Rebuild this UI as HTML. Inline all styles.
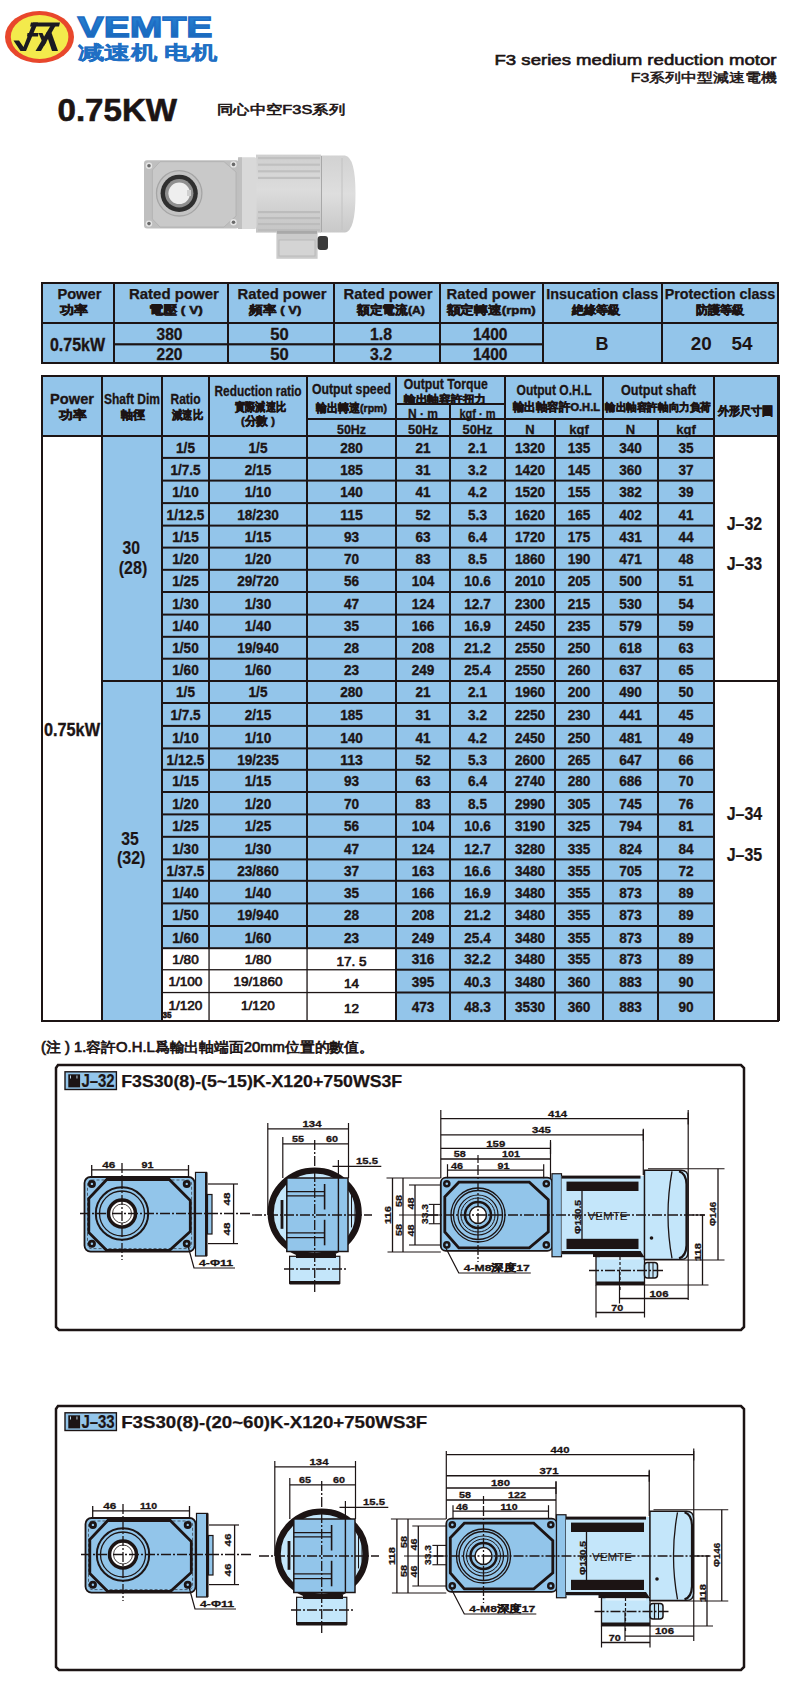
<!DOCTYPE html>
<html><head><meta charset="utf-8"><style>
html,body{margin:0;padding:0;background:#fff;width:800px;height:1700px;overflow:hidden;font-family:"Liberation Sans",sans-serif}
</style></head><body>
<svg width="800" height="1700" viewBox="0 0 800 1700" style="position:absolute;left:0;top:0">
<rect x="0" y="0" width="800" height="1700" fill="#ffffff" />
<g>
<ellipse cx="39.5" cy="37" rx="34.5" ry="26" fill="#e8472c"/>
<ellipse cx="39.6" cy="37" rx="28.8" ry="22" fill="#f3ea4c"/>
<polygon points="13.5,40.5 19,40.5 23.5,47 33,22.5 38,22.5 26,51 20.5,51" fill="#1b1a22"/>
<polygon points="31,22.5 60,22.5 59,26.5 30,26.5" fill="#1b1a22"/>
<polygon points="27.5,33 38.5,33 38,36.5 27,36.5" fill="#1b1a22"/>
<polygon points="51,25 56,25 41,51 35.5,51" fill="#1b1a22"/>
<polygon points="38.5,33 42.5,33 46.5,42 44,46" fill="#1b1a22"/>
<polygon points="46,33 50.5,30 58,51 52,51" fill="#1b1a22"/>
</g>
<defs><linearGradient id="vg" x1="0" y1="0" x2="0" y2="1"><stop offset="0" stop-color="#2a86d8"/><stop offset="1" stop-color="#1562b4"/></linearGradient></defs>
<text x="77.5" y="37" font-size="29" font-weight="bold" text-anchor="start" fill="url(#vg)" font-family="Liberation Sans" textLength="135" lengthAdjust="spacingAndGlyphs" stroke="#1d6cc4" stroke-width="1.3">VEMTE</text>
<text x="78" y="59" font-size="19" font-weight="bold" text-anchor="start" fill="#1f6fc4" font-family="Liberation Sans" textLength="139" lengthAdjust="spacingAndGlyphs" stroke="#1f6fc4" stroke-width="0.35">减速机 电机</text>
<text x="494.5" y="65.2" font-size="15.5" font-weight="normal" text-anchor="start" fill="#1c1414" font-family="Liberation Sans" textLength="282" lengthAdjust="spacingAndGlyphs" stroke="#1c1414" stroke-width="0.6">F3 series medium reduction motor</text>
<text x="776.8" y="82" font-size="13" font-weight="normal" text-anchor="end" fill="#1c1414" font-family="Liberation Sans" textLength="146" lengthAdjust="spacingAndGlyphs" stroke="#1c1414" stroke-width="0.5">F3系列中型減速電機</text>
<text x="57.5" y="121" font-size="32" font-weight="bold" text-anchor="start" fill="#1c1414" font-family="Liberation Sans" textLength="119.5" lengthAdjust="spacingAndGlyphs" stroke="#1c1414" stroke-width="0.6">0.75KW</text>
<text x="217" y="114" font-size="13" font-weight="normal" text-anchor="start" fill="#1c1414" font-family="Liberation Sans" textLength="128" lengthAdjust="spacingAndGlyphs" stroke="#1c1414" stroke-width="0.6">同心中空F3S系列</text>
<defs><linearGradient id="mg" x1="0" y1="0" x2="0" y2="1"><stop offset="0" stop-color="#cfcfcf"/><stop offset="0.45" stop-color="#dcdcdc"/><stop offset="1" stop-color="#c4c4c4"/></linearGradient><linearGradient id="cg" x1="0" y1="0" x2="0" y2="1"><stop offset="0" stop-color="#d2d2d2"/><stop offset="0.5" stop-color="#dedede"/><stop offset="1" stop-color="#c8c8c8"/></linearGradient></defs>
<g>
<path d="M320 155.5 L345 155.5 Q355.5 157 355.5 194 Q355.5 231 345 232.6 L320 232.6 Z" fill="url(#cg)"/>
<line x1="342" y1="158" x2="342" y2="230" stroke="#c2c2c2" stroke-width="1"/>
<line x1="321.5" y1="156" x2="321.5" y2="232" stroke="#a8a8a8" stroke-width="1"/>
<rect x="256" y="154.6" width="65" height="78" fill="url(#mg)"/>
<rect x="258" y="157.0" width="62" height="2.2" fill="#c0c0c0"/>
<rect x="258" y="163.6" width="62" height="2.2" fill="#c0c0c0"/>
<rect x="258" y="170.2" width="62" height="2.2" fill="#c0c0c0"/>
<rect x="258" y="176.8" width="62" height="2.2" fill="#c0c0c0"/>
<rect x="258" y="211.0" width="62" height="2.2" fill="#bcbcbc"/>
<rect x="258" y="217.0" width="62" height="2.2" fill="#bcbcbc"/>
<rect x="258" y="223.0" width="62" height="2.2" fill="#bcbcbc"/>
<rect x="258" y="229.0" width="62" height="2.2" fill="#bcbcbc"/>
<rect x="238" y="157.3" width="18.5" height="71.7" rx="2" fill="#d9d9d9"/>
<rect x="238" y="157.3" width="4" height="71.7" fill="#c0c0c0"/>
<rect x="276.4" y="230.8" width="41.2" height="28" fill="#cbcbcb"/>
<rect x="279" y="240" width="36" height="16" fill="#d4d4d4" stroke="#b4b4b4" stroke-width="0.8"/>
<rect x="277" y="230.8" width="40" height="3" fill="#a9a9a9"/>
<rect x="317.6" y="236" width="10.4" height="14" rx="3" fill="#3a3a3a"/>
<rect x="144" y="160.3" width="95" height="68.1" rx="3" fill="#bfbfbf"/>
<polygon points="160,161.7 224,161.7 236,172 236,216 224,227 160,227 152.4,219 152.4,170" fill="#c9c9c9" stroke="#b0b0b0" stroke-width="0.8"/>
<circle cx="179.2" cy="193.3" r="22.7" fill="#c3c3c3" stroke="#a5a5a5" stroke-width="1.3"/>
<circle cx="179.2" cy="193.3" r="18.6" fill="#2f2f2f"/>
<circle cx="179.2" cy="193.3" r="14.2" fill="#8f8f8f"/>
<circle cx="179.2" cy="193.3" r="10.8" fill="#eeeeee"/>
<rect x="187" y="190" width="4" height="6" fill="#cfcfcf"/>
<circle cx="149" cy="165.8" r="3.2" fill="#e6e6e6"/>
<circle cx="149" cy="165.8" r="1.8" fill="#6a6a6a"/>
<circle cx="233.5" cy="164.4" r="3.2" fill="#e6e6e6"/>
<circle cx="233.5" cy="164.4" r="1.8" fill="#6a6a6a"/>
<circle cx="149" cy="223.6" r="3.2" fill="#e6e6e6"/>
<circle cx="149" cy="223.6" r="1.8" fill="#6a6a6a"/>
<circle cx="233.5" cy="222.2" r="3.2" fill="#e6e6e6"/>
<circle cx="233.5" cy="222.2" r="1.8" fill="#6a6a6a"/>
</g>
<rect x="41" y="282" width="738" height="82" fill="#93c5ea" />
<rect x="41" y="282" width="738" height="2" fill="#1c1414" />
<rect x="41" y="322" width="738" height="2" fill="#1c1414" />
<rect x="41" y="362" width="738" height="2" fill="#1c1414" />
<rect x="114" y="343.2" width="429" height="2.2" fill="#1c1414" />
<rect x="41" y="282" width="2" height="82" fill="#1c1414" />
<rect x="113" y="282" width="2" height="82" fill="#1c1414" />
<rect x="227" y="282" width="2" height="82" fill="#1c1414" />
<rect x="333" y="282" width="2" height="82" fill="#1c1414" />
<rect x="439" y="282" width="2" height="82" fill="#1c1414" />
<rect x="542" y="282" width="2" height="82" fill="#1c1414" />
<rect x="661" y="282" width="2" height="82" fill="#1c1414" />
<rect x="777" y="282" width="2" height="82" fill="#1c1414" />
<text x="79.4" y="298.6" font-size="14" font-weight="bold" text-anchor="middle" fill="#1c1414" font-family="Liberation Sans" textLength="44" lengthAdjust="spacingAndGlyphs" stroke="#1c1414" stroke-width="0.25">Power</text>
<text x="60" y="314.2" font-size="11.5" font-weight="bold" text-anchor="start" fill="#1c1414" font-family="Liberation Sans" textLength="28" lengthAdjust="spacingAndGlyphs"  stroke="#1c1414" stroke-width="0.55">功率</text>
<text x="173.9" y="298.6" font-size="14" font-weight="bold" text-anchor="middle" fill="#1c1414" font-family="Liberation Sans" textLength="90" lengthAdjust="spacingAndGlyphs" stroke="#1c1414" stroke-width="0.25">Rated power</text>
<text x="148.75" y="314.2" font-size="11.5" font-weight="bold" text-anchor="start" fill="#1c1414" font-family="Liberation Sans" textLength="54" lengthAdjust="spacingAndGlyphs"  stroke="#1c1414" stroke-width="0.55">電壓 ( V)</text>
<text x="282" y="298.6" font-size="14" font-weight="bold" text-anchor="middle" fill="#1c1414" font-family="Liberation Sans" textLength="89" lengthAdjust="spacingAndGlyphs" stroke="#1c1414" stroke-width="0.25">Rated power</text>
<text x="249.4" y="314.2" font-size="11.5" font-weight="bold" text-anchor="start" fill="#1c1414" font-family="Liberation Sans" textLength="52" lengthAdjust="spacingAndGlyphs"  stroke="#1c1414" stroke-width="0.55">頻率 ( V)</text>
<text x="388" y="298.6" font-size="14" font-weight="bold" text-anchor="middle" fill="#1c1414" font-family="Liberation Sans" textLength="89" lengthAdjust="spacingAndGlyphs" stroke="#1c1414" stroke-width="0.25">Rated power</text>
<text x="356.9" y="314.2" font-size="11.5" font-weight="bold" text-anchor="start" fill="#1c1414" font-family="Liberation Sans" textLength="68" lengthAdjust="spacingAndGlyphs"  stroke="#1c1414" stroke-width="0.55">額定電流(A)</text>
<text x="491" y="298.6" font-size="14" font-weight="bold" text-anchor="middle" fill="#1c1414" font-family="Liberation Sans" textLength="89" lengthAdjust="spacingAndGlyphs" stroke="#1c1414" stroke-width="0.25">Rated power</text>
<text x="446.6" y="314.2" font-size="11.5" font-weight="bold" text-anchor="start" fill="#1c1414" font-family="Liberation Sans" textLength="89" lengthAdjust="spacingAndGlyphs"  stroke="#1c1414" stroke-width="0.55">額定轉速(rpm)</text>
<text x="602.3" y="298.6" font-size="14" font-weight="bold" text-anchor="middle" fill="#1c1414" font-family="Liberation Sans" textLength="112" lengthAdjust="spacingAndGlyphs" stroke="#1c1414" stroke-width="0.25">Insucation class</text>
<text x="571.6" y="314.2" font-size="11.5" font-weight="bold" text-anchor="start" fill="#1c1414" font-family="Liberation Sans" textLength="49" lengthAdjust="spacingAndGlyphs"  stroke="#1c1414" stroke-width="0.55">絶緣等級</text>
<text x="720" y="298.6" font-size="14" font-weight="bold" text-anchor="middle" fill="#1c1414" font-family="Liberation Sans" textLength="110.5" lengthAdjust="spacingAndGlyphs" stroke="#1c1414" stroke-width="0.25">Protection class</text>
<text x="695.7" y="314.2" font-size="11.5" font-weight="bold" text-anchor="start" fill="#1c1414" font-family="Liberation Sans" textLength="49" lengthAdjust="spacingAndGlyphs"  stroke="#1c1414" stroke-width="0.55">防護等級</text>
<text x="77.5" y="350.5" font-size="18" font-weight="bold" text-anchor="middle" fill="#1c1414" font-family="Liberation Sans" textLength="55" lengthAdjust="spacingAndGlyphs" stroke="#1c1414" stroke-width="0.35">0.75kW</text>
<text x="169.5" y="339.6" font-size="17" font-weight="bold" text-anchor="middle" fill="#1c1414" font-family="Liberation Sans" textLength="26" lengthAdjust="spacingAndGlyphs" stroke="#1c1414" stroke-width="0.3">380</text>
<text x="169.5" y="360" font-size="17" font-weight="bold" text-anchor="middle" fill="#1c1414" font-family="Liberation Sans" textLength="26" lengthAdjust="spacingAndGlyphs" stroke="#1c1414" stroke-width="0.3">220</text>
<text x="279.5" y="339.6" font-size="17" font-weight="bold" text-anchor="middle" fill="#1c1414" font-family="Liberation Sans" textLength="18.5" lengthAdjust="spacingAndGlyphs" stroke="#1c1414" stroke-width="0.3">50</text>
<text x="279.5" y="360" font-size="17" font-weight="bold" text-anchor="middle" fill="#1c1414" font-family="Liberation Sans" textLength="18.5" lengthAdjust="spacingAndGlyphs" stroke="#1c1414" stroke-width="0.3">50</text>
<text x="381" y="339.6" font-size="17" font-weight="bold" text-anchor="middle" fill="#1c1414" font-family="Liberation Sans" textLength="22" lengthAdjust="spacingAndGlyphs" stroke="#1c1414" stroke-width="0.3">1.8</text>
<text x="381" y="360" font-size="17" font-weight="bold" text-anchor="middle" fill="#1c1414" font-family="Liberation Sans" textLength="22" lengthAdjust="spacingAndGlyphs" stroke="#1c1414" stroke-width="0.3">3.2</text>
<text x="490.2" y="339.6" font-size="17" font-weight="bold" text-anchor="middle" fill="#1c1414" font-family="Liberation Sans" textLength="34.5" lengthAdjust="spacingAndGlyphs" stroke="#1c1414" stroke-width="0.3">1400</text>
<text x="490.2" y="360" font-size="17" font-weight="bold" text-anchor="middle" fill="#1c1414" font-family="Liberation Sans" textLength="34.5" lengthAdjust="spacingAndGlyphs" stroke="#1c1414" stroke-width="0.3">1400</text>
<text x="602" y="350" font-size="18" font-weight="bold" text-anchor="middle" fill="#1c1414" font-family="Liberation Sans" >B</text>
<text x="701.3" y="350" font-size="18" font-weight="bold" text-anchor="middle" fill="#1c1414" font-family="Liberation Sans" textLength="21" lengthAdjust="spacingAndGlyphs" >20</text>
<text x="741.9" y="350" font-size="18" font-weight="bold" text-anchor="middle" fill="#1c1414" font-family="Liberation Sans" textLength="21" lengthAdjust="spacingAndGlyphs" >54</text>
<rect x="41" y="375" width="738" height="62" fill="#93c5ea" />
<rect x="101" y="437" width="612" height="583" fill="#93c5ea" />
<rect x="163" y="949" width="232" height="71" fill="#ffffff" />
<rect x="41" y="375" width="738" height="2" fill="#1c1414" />
<rect x="41" y="435" width="738" height="2" fill="#1c1414" />
<rect x="306" y="418" width="407" height="2" fill="#1c1414" />
<rect x="395" y="403" width="109" height="2" fill="#1c1414" />
<rect x="777" y="375" width="3" height="646" fill="#1c1414" />
<rect x="41" y="375" width="2" height="646" fill="#1c1414" />
<rect x="101" y="375" width="2" height="646" fill="#1c1414" />
<rect x="161" y="375" width="2" height="646" fill="#1c1414" />
<rect x="208" y="375" width="2" height="574" fill="#1c1414" />
<rect x="208.4" y="949" width="1.3" height="72" fill="#1c1414" />
<rect x="306" y="375" width="2" height="574" fill="#1c1414" />
<rect x="306.4" y="949" width="1.3" height="72" fill="#1c1414" />
<rect x="395" y="375" width="2" height="646" fill="#1c1414" />
<rect x="504" y="375" width="2" height="646" fill="#1c1414" />
<rect x="602" y="375" width="2" height="646" fill="#1c1414" />
<rect x="713" y="375" width="2" height="646" fill="#1c1414" />
<rect x="777" y="375" width="2" height="646" fill="#1c1414" />
<rect x="449" y="403" width="2" height="618" fill="#1c1414" />
<rect x="554" y="418" width="2" height="603" fill="#1c1414" />
<rect x="657" y="418" width="2" height="603" fill="#1c1414" />
<rect x="161" y="456.9" width="554" height="2" fill="#1c1414" />
<rect x="161" y="479.6" width="554" height="2" fill="#1c1414" />
<rect x="161" y="502.1" width="554" height="2" fill="#1c1414" />
<rect x="161" y="524.6" width="554" height="2" fill="#1c1414" />
<rect x="161" y="546.6" width="554" height="2" fill="#1c1414" />
<rect x="161" y="568.8" width="554" height="2" fill="#1c1414" />
<rect x="161" y="591.0" width="554" height="2" fill="#1c1414" />
<rect x="161" y="613.6" width="554" height="2" fill="#1c1414" />
<rect x="161" y="635.8" width="554" height="2" fill="#1c1414" />
<rect x="161" y="657.7" width="554" height="2" fill="#1c1414" />
<rect x="161" y="680.0" width="554" height="2" fill="#1c1414" />
<rect x="161" y="702.0" width="554" height="2" fill="#1c1414" />
<rect x="161" y="724.9" width="554" height="2" fill="#1c1414" />
<rect x="161" y="747.4" width="554" height="2" fill="#1c1414" />
<rect x="161" y="768.8" width="554" height="2" fill="#1c1414" />
<rect x="161" y="791.0" width="554" height="2" fill="#1c1414" />
<rect x="161" y="813.4" width="554" height="2" fill="#1c1414" />
<rect x="161" y="835.8" width="554" height="2" fill="#1c1414" />
<rect x="161" y="858.4" width="554" height="2" fill="#1c1414" />
<rect x="161" y="879.8" width="554" height="2" fill="#1c1414" />
<rect x="161" y="902.4" width="554" height="2" fill="#1c1414" />
<rect x="161" y="925.0" width="554" height="2" fill="#1c1414" />
<rect x="161" y="947.2" width="554" height="2" fill="#1c1414" />
<rect x="161" y="969.1" width="234" height="1.3" fill="#1c1414" />
<rect x="395" y="968.7" width="320" height="2" fill="#1c1414" />
<rect x="161" y="991.9" width="234" height="1.3" fill="#1c1414" />
<rect x="395" y="991.5" width="320" height="2" fill="#1c1414" />
<rect x="41" y="680" width="2" height="2" fill="#1c1414" />
<rect x="101" y="680" width="62" height="2" fill="#1c1414" />
<rect x="713" y="680" width="66" height="2" fill="#1c1414" />
<rect x="41" y="1020" width="738" height="2" fill="#1c1414" />
<text x="72.0" y="403.75" font-size="14" font-weight="bold" text-anchor="middle" fill="#1c1414" font-family="Liberation Sans" textLength="44" lengthAdjust="spacingAndGlyphs" stroke="#1c1414" stroke-width="0.3">Power</text>
<text x="58.75" y="418.5" font-size="11.5" font-weight="bold" text-anchor="start" fill="#1c1414" font-family="Liberation Sans" textLength="27.5" lengthAdjust="spacingAndGlyphs"  stroke="#1c1414" stroke-width="0.55">功率</text>
<text x="132.0" y="403.75" font-size="14" font-weight="bold" text-anchor="middle" fill="#1c1414" font-family="Liberation Sans" textLength="56" lengthAdjust="spacingAndGlyphs" stroke="#1c1414" stroke-width="0.3">Shaft Dim</text>
<text x="121.25" y="418.5" font-size="11.5" font-weight="bold" text-anchor="start" fill="#1c1414" font-family="Liberation Sans" textLength="24" lengthAdjust="spacingAndGlyphs"  stroke="#1c1414" stroke-width="0.55">軸徑</text>
<text x="185.5" y="403.75" font-size="14" font-weight="bold" text-anchor="middle" fill="#1c1414" font-family="Liberation Sans" textLength="30" lengthAdjust="spacingAndGlyphs" stroke="#1c1414" stroke-width="0.3">Ratio</text>
<text x="172" y="418.5" font-size="11.5" font-weight="bold" text-anchor="start" fill="#1c1414" font-family="Liberation Sans" textLength="31" lengthAdjust="spacingAndGlyphs"  stroke="#1c1414" stroke-width="0.55">減速比</text>
<text x="258.0" y="396" font-size="14" font-weight="bold" text-anchor="middle" fill="#1c1414" font-family="Liberation Sans" textLength="87" lengthAdjust="spacingAndGlyphs" stroke="#1c1414" stroke-width="0.3">Reduction ratio</text>
<text x="235" y="411" font-size="11.5" font-weight="bold" text-anchor="start" fill="#1c1414" font-family="Liberation Sans" textLength="51" lengthAdjust="spacingAndGlyphs"  stroke="#1c1414" stroke-width="0.55">實際減速比</text>
<text x="241" y="425" font-size="11.5" font-weight="bold" text-anchor="start" fill="#1c1414" font-family="Liberation Sans" textLength="34" lengthAdjust="spacingAndGlyphs"  stroke="#1c1414" stroke-width="0.55">(分數 )</text>
<text x="351.5" y="393.75" font-size="14" font-weight="bold" text-anchor="middle" fill="#1c1414" font-family="Liberation Sans" textLength="79" lengthAdjust="spacingAndGlyphs" stroke="#1c1414" stroke-width="0.3">Output speed</text>
<text x="316" y="412" font-size="11.5" font-weight="bold" text-anchor="start" fill="#1c1414" font-family="Liberation Sans" textLength="71" lengthAdjust="spacingAndGlyphs"  stroke="#1c1414" stroke-width="0.55">輸出轉速(rpm)</text>
<text x="351.5" y="433.75" font-size="13" font-weight="bold" text-anchor="middle" fill="#1c1414" font-family="Liberation Sans" textLength="29" lengthAdjust="spacingAndGlyphs" stroke="#1c1414" stroke-width="0.3">50Hz</text>
<text x="403.75" y="388.75" font-size="14" font-weight="bold" text-anchor="start" fill="#1c1414" font-family="Liberation Sans" textLength="84" lengthAdjust="spacingAndGlyphs" stroke="#1c1414" stroke-width="0.3">Output  Torque</text>
<text x="403.75" y="402.5" font-size="11" font-weight="bold" text-anchor="start" fill="#1c1414" font-family="Liberation Sans" textLength="82.5" lengthAdjust="spacingAndGlyphs"  stroke="#1c1414" stroke-width="0.55">輸出軸容許扭力</text>
<text x="423.0" y="417.5" font-size="13" font-weight="bold" text-anchor="middle" fill="#1c1414" font-family="Liberation Sans" textLength="30" lengthAdjust="spacingAndGlyphs" stroke="#1c1414" stroke-width="0.3">N · m</text>
<text x="477.5" y="417.5" font-size="13" font-weight="bold" text-anchor="middle" fill="#1c1414" font-family="Liberation Sans" textLength="36" lengthAdjust="spacingAndGlyphs" stroke="#1c1414" stroke-width="0.3">kgf · m</text>
<text x="423.0" y="433.75" font-size="13" font-weight="bold" text-anchor="middle" fill="#1c1414" font-family="Liberation Sans" textLength="30" lengthAdjust="spacingAndGlyphs" stroke="#1c1414" stroke-width="0.3">50Hz</text>
<text x="477.5" y="433.75" font-size="13" font-weight="bold" text-anchor="middle" fill="#1c1414" font-family="Liberation Sans" textLength="30" lengthAdjust="spacingAndGlyphs" stroke="#1c1414" stroke-width="0.3">50Hz</text>
<text x="554.0" y="395" font-size="14" font-weight="bold" text-anchor="middle" fill="#1c1414" font-family="Liberation Sans" textLength="75" lengthAdjust="spacingAndGlyphs" stroke="#1c1414" stroke-width="0.3">Output O.H.L</text>
<text x="512.5" y="411" font-size="11.5" font-weight="bold" text-anchor="start" fill="#1c1414" font-family="Liberation Sans" textLength="87.5" lengthAdjust="spacingAndGlyphs"  stroke="#1c1414" stroke-width="0.55">輸出軸容許O.H.L</text>
<text x="530.0" y="433.75" font-size="13" font-weight="bold" text-anchor="middle" fill="#1c1414" font-family="Liberation Sans" stroke="#1c1414" stroke-width="0.3">N</text>
<text x="579.0" y="433.75" font-size="13" font-weight="bold" text-anchor="middle" fill="#1c1414" font-family="Liberation Sans" stroke="#1c1414" stroke-width="0.3">kgf</text>
<text x="658.5" y="395" font-size="14" font-weight="bold" text-anchor="middle" fill="#1c1414" font-family="Liberation Sans" textLength="75" lengthAdjust="spacingAndGlyphs" stroke="#1c1414" stroke-width="0.3">Output  shaft</text>
<text x="605" y="411" font-size="11" font-weight="bold" text-anchor="start" fill="#1c1414" font-family="Liberation Sans" textLength="106" lengthAdjust="spacingAndGlyphs"  stroke="#1c1414" stroke-width="0.55">輸出軸容許軸向力負荷</text>
<text x="630.5" y="433.75" font-size="13" font-weight="bold" text-anchor="middle" fill="#1c1414" font-family="Liberation Sans" stroke="#1c1414" stroke-width="0.3">N</text>
<text x="686.0" y="433.75" font-size="13" font-weight="bold" text-anchor="middle" fill="#1c1414" font-family="Liberation Sans" stroke="#1c1414" stroke-width="0.3">kgf</text>
<text x="717.5" y="415" font-size="11.5" font-weight="bold" text-anchor="start" fill="#1c1414" font-family="Liberation Sans" textLength="56" lengthAdjust="spacingAndGlyphs"  stroke="#1c1414" stroke-width="0.55">外形尺寸圖</text>
<text x="185.5" y="452.50000000000006" font-size="14.6" font-weight="bold" text-anchor="middle" fill="#1c1414" font-family="Liberation Sans" textLength="18.9" lengthAdjust="spacingAndGlyphs" stroke="#1c1414" stroke-width="0.35">1/5</text>
<text x="258.0" y="452.50000000000006" font-size="14.6" font-weight="bold" text-anchor="middle" fill="#1c1414" font-family="Liberation Sans" textLength="18.9" lengthAdjust="spacingAndGlyphs" stroke="#1c1414" stroke-width="0.35">1/5</text>
<text x="351.5" y="452.50000000000006" font-size="14.6" font-weight="bold" text-anchor="middle" fill="#1c1414" font-family="Liberation Sans" textLength="22.68" lengthAdjust="spacingAndGlyphs" stroke="#1c1414" stroke-width="0.35">280</text>
<text x="423.0" y="452.50000000000006" font-size="14.6" font-weight="bold" text-anchor="middle" fill="#1c1414" font-family="Liberation Sans" textLength="15.12" lengthAdjust="spacingAndGlyphs" stroke="#1c1414" stroke-width="0.35">21</text>
<text x="477.5" y="452.50000000000006" font-size="14.6" font-weight="bold" text-anchor="middle" fill="#1c1414" font-family="Liberation Sans" textLength="18.9" lengthAdjust="spacingAndGlyphs" stroke="#1c1414" stroke-width="0.35">2.1</text>
<text x="530.0" y="452.50000000000006" font-size="14.6" font-weight="bold" text-anchor="middle" fill="#1c1414" font-family="Liberation Sans" textLength="30.25" lengthAdjust="spacingAndGlyphs" stroke="#1c1414" stroke-width="0.35">1320</text>
<text x="579.0" y="452.50000000000006" font-size="14.6" font-weight="bold" text-anchor="middle" fill="#1c1414" font-family="Liberation Sans" textLength="22.68" lengthAdjust="spacingAndGlyphs" stroke="#1c1414" stroke-width="0.35">135</text>
<text x="630.5" y="452.50000000000006" font-size="14.6" font-weight="bold" text-anchor="middle" fill="#1c1414" font-family="Liberation Sans" textLength="22.68" lengthAdjust="spacingAndGlyphs" stroke="#1c1414" stroke-width="0.35">340</text>
<text x="686.0" y="452.50000000000006" font-size="14.6" font-weight="bold" text-anchor="middle" fill="#1c1414" font-family="Liberation Sans" textLength="15.12" lengthAdjust="spacingAndGlyphs" stroke="#1c1414" stroke-width="0.35">35</text>
<text x="185.5" y="474.65000000000003" font-size="14.6" font-weight="bold" text-anchor="middle" fill="#1c1414" font-family="Liberation Sans" textLength="30.25" lengthAdjust="spacingAndGlyphs" stroke="#1c1414" stroke-width="0.35">1/7.5</text>
<text x="258.0" y="474.65000000000003" font-size="14.6" font-weight="bold" text-anchor="middle" fill="#1c1414" font-family="Liberation Sans" textLength="26.47" lengthAdjust="spacingAndGlyphs" stroke="#1c1414" stroke-width="0.35">2/15</text>
<text x="351.5" y="474.65000000000003" font-size="14.6" font-weight="bold" text-anchor="middle" fill="#1c1414" font-family="Liberation Sans" textLength="22.68" lengthAdjust="spacingAndGlyphs" stroke="#1c1414" stroke-width="0.35">185</text>
<text x="423.0" y="474.65000000000003" font-size="14.6" font-weight="bold" text-anchor="middle" fill="#1c1414" font-family="Liberation Sans" textLength="15.12" lengthAdjust="spacingAndGlyphs" stroke="#1c1414" stroke-width="0.35">31</text>
<text x="477.5" y="474.65000000000003" font-size="14.6" font-weight="bold" text-anchor="middle" fill="#1c1414" font-family="Liberation Sans" textLength="18.9" lengthAdjust="spacingAndGlyphs" stroke="#1c1414" stroke-width="0.35">3.2</text>
<text x="530.0" y="474.65000000000003" font-size="14.6" font-weight="bold" text-anchor="middle" fill="#1c1414" font-family="Liberation Sans" textLength="30.25" lengthAdjust="spacingAndGlyphs" stroke="#1c1414" stroke-width="0.35">1420</text>
<text x="579.0" y="474.65000000000003" font-size="14.6" font-weight="bold" text-anchor="middle" fill="#1c1414" font-family="Liberation Sans" textLength="22.68" lengthAdjust="spacingAndGlyphs" stroke="#1c1414" stroke-width="0.35">145</text>
<text x="630.5" y="474.65000000000003" font-size="14.6" font-weight="bold" text-anchor="middle" fill="#1c1414" font-family="Liberation Sans" textLength="22.68" lengthAdjust="spacingAndGlyphs" stroke="#1c1414" stroke-width="0.35">360</text>
<text x="686.0" y="474.65000000000003" font-size="14.6" font-weight="bold" text-anchor="middle" fill="#1c1414" font-family="Liberation Sans" textLength="15.12" lengthAdjust="spacingAndGlyphs" stroke="#1c1414" stroke-width="0.35">37</text>
<text x="185.5" y="497.25000000000006" font-size="14.6" font-weight="bold" text-anchor="middle" fill="#1c1414" font-family="Liberation Sans" textLength="26.47" lengthAdjust="spacingAndGlyphs" stroke="#1c1414" stroke-width="0.35">1/10</text>
<text x="258.0" y="497.25000000000006" font-size="14.6" font-weight="bold" text-anchor="middle" fill="#1c1414" font-family="Liberation Sans" textLength="26.47" lengthAdjust="spacingAndGlyphs" stroke="#1c1414" stroke-width="0.35">1/10</text>
<text x="351.5" y="497.25000000000006" font-size="14.6" font-weight="bold" text-anchor="middle" fill="#1c1414" font-family="Liberation Sans" textLength="22.68" lengthAdjust="spacingAndGlyphs" stroke="#1c1414" stroke-width="0.35">140</text>
<text x="423.0" y="497.25000000000006" font-size="14.6" font-weight="bold" text-anchor="middle" fill="#1c1414" font-family="Liberation Sans" textLength="15.12" lengthAdjust="spacingAndGlyphs" stroke="#1c1414" stroke-width="0.35">41</text>
<text x="477.5" y="497.25000000000006" font-size="14.6" font-weight="bold" text-anchor="middle" fill="#1c1414" font-family="Liberation Sans" textLength="18.9" lengthAdjust="spacingAndGlyphs" stroke="#1c1414" stroke-width="0.35">4.2</text>
<text x="530.0" y="497.25000000000006" font-size="14.6" font-weight="bold" text-anchor="middle" fill="#1c1414" font-family="Liberation Sans" textLength="30.25" lengthAdjust="spacingAndGlyphs" stroke="#1c1414" stroke-width="0.35">1520</text>
<text x="579.0" y="497.25000000000006" font-size="14.6" font-weight="bold" text-anchor="middle" fill="#1c1414" font-family="Liberation Sans" textLength="22.68" lengthAdjust="spacingAndGlyphs" stroke="#1c1414" stroke-width="0.35">155</text>
<text x="630.5" y="497.25000000000006" font-size="14.6" font-weight="bold" text-anchor="middle" fill="#1c1414" font-family="Liberation Sans" textLength="22.68" lengthAdjust="spacingAndGlyphs" stroke="#1c1414" stroke-width="0.35">382</text>
<text x="686.0" y="497.25000000000006" font-size="14.6" font-weight="bold" text-anchor="middle" fill="#1c1414" font-family="Liberation Sans" textLength="15.12" lengthAdjust="spacingAndGlyphs" stroke="#1c1414" stroke-width="0.35">39</text>
<text x="185.5" y="519.75" font-size="14.6" font-weight="bold" text-anchor="middle" fill="#1c1414" font-family="Liberation Sans" textLength="37.81" lengthAdjust="spacingAndGlyphs" stroke="#1c1414" stroke-width="0.35">1/12.5</text>
<text x="258.0" y="519.75" font-size="14.6" font-weight="bold" text-anchor="middle" fill="#1c1414" font-family="Liberation Sans" textLength="41.59" lengthAdjust="spacingAndGlyphs" stroke="#1c1414" stroke-width="0.35">18/230</text>
<text x="351.5" y="519.75" font-size="14.6" font-weight="bold" text-anchor="middle" fill="#1c1414" font-family="Liberation Sans" textLength="22.68" lengthAdjust="spacingAndGlyphs" stroke="#1c1414" stroke-width="0.35">115</text>
<text x="423.0" y="519.75" font-size="14.6" font-weight="bold" text-anchor="middle" fill="#1c1414" font-family="Liberation Sans" textLength="15.12" lengthAdjust="spacingAndGlyphs" stroke="#1c1414" stroke-width="0.35">52</text>
<text x="477.5" y="519.75" font-size="14.6" font-weight="bold" text-anchor="middle" fill="#1c1414" font-family="Liberation Sans" textLength="18.9" lengthAdjust="spacingAndGlyphs" stroke="#1c1414" stroke-width="0.35">5.3</text>
<text x="530.0" y="519.75" font-size="14.6" font-weight="bold" text-anchor="middle" fill="#1c1414" font-family="Liberation Sans" textLength="30.25" lengthAdjust="spacingAndGlyphs" stroke="#1c1414" stroke-width="0.35">1620</text>
<text x="579.0" y="519.75" font-size="14.6" font-weight="bold" text-anchor="middle" fill="#1c1414" font-family="Liberation Sans" textLength="22.68" lengthAdjust="spacingAndGlyphs" stroke="#1c1414" stroke-width="0.35">165</text>
<text x="630.5" y="519.75" font-size="14.6" font-weight="bold" text-anchor="middle" fill="#1c1414" font-family="Liberation Sans" textLength="22.68" lengthAdjust="spacingAndGlyphs" stroke="#1c1414" stroke-width="0.35">402</text>
<text x="686.0" y="519.75" font-size="14.6" font-weight="bold" text-anchor="middle" fill="#1c1414" font-family="Liberation Sans" textLength="15.12" lengthAdjust="spacingAndGlyphs" stroke="#1c1414" stroke-width="0.35">41</text>
<text x="185.5" y="542.0" font-size="14.6" font-weight="bold" text-anchor="middle" fill="#1c1414" font-family="Liberation Sans" textLength="26.47" lengthAdjust="spacingAndGlyphs" stroke="#1c1414" stroke-width="0.35">1/15</text>
<text x="258.0" y="542.0" font-size="14.6" font-weight="bold" text-anchor="middle" fill="#1c1414" font-family="Liberation Sans" textLength="26.47" lengthAdjust="spacingAndGlyphs" stroke="#1c1414" stroke-width="0.35">1/15</text>
<text x="351.5" y="542.0" font-size="14.6" font-weight="bold" text-anchor="middle" fill="#1c1414" font-family="Liberation Sans" textLength="15.12" lengthAdjust="spacingAndGlyphs" stroke="#1c1414" stroke-width="0.35">93</text>
<text x="423.0" y="542.0" font-size="14.6" font-weight="bold" text-anchor="middle" fill="#1c1414" font-family="Liberation Sans" textLength="15.12" lengthAdjust="spacingAndGlyphs" stroke="#1c1414" stroke-width="0.35">63</text>
<text x="477.5" y="542.0" font-size="14.6" font-weight="bold" text-anchor="middle" fill="#1c1414" font-family="Liberation Sans" textLength="18.9" lengthAdjust="spacingAndGlyphs" stroke="#1c1414" stroke-width="0.35">6.4</text>
<text x="530.0" y="542.0" font-size="14.6" font-weight="bold" text-anchor="middle" fill="#1c1414" font-family="Liberation Sans" textLength="30.25" lengthAdjust="spacingAndGlyphs" stroke="#1c1414" stroke-width="0.35">1720</text>
<text x="579.0" y="542.0" font-size="14.6" font-weight="bold" text-anchor="middle" fill="#1c1414" font-family="Liberation Sans" textLength="22.68" lengthAdjust="spacingAndGlyphs" stroke="#1c1414" stroke-width="0.35">175</text>
<text x="630.5" y="542.0" font-size="14.6" font-weight="bold" text-anchor="middle" fill="#1c1414" font-family="Liberation Sans" textLength="22.68" lengthAdjust="spacingAndGlyphs" stroke="#1c1414" stroke-width="0.35">431</text>
<text x="686.0" y="542.0" font-size="14.6" font-weight="bold" text-anchor="middle" fill="#1c1414" font-family="Liberation Sans" textLength="15.12" lengthAdjust="spacingAndGlyphs" stroke="#1c1414" stroke-width="0.35">44</text>
<text x="185.5" y="564.1" font-size="14.6" font-weight="bold" text-anchor="middle" fill="#1c1414" font-family="Liberation Sans" textLength="26.47" lengthAdjust="spacingAndGlyphs" stroke="#1c1414" stroke-width="0.35">1/20</text>
<text x="258.0" y="564.1" font-size="14.6" font-weight="bold" text-anchor="middle" fill="#1c1414" font-family="Liberation Sans" textLength="26.47" lengthAdjust="spacingAndGlyphs" stroke="#1c1414" stroke-width="0.35">1/20</text>
<text x="351.5" y="564.1" font-size="14.6" font-weight="bold" text-anchor="middle" fill="#1c1414" font-family="Liberation Sans" textLength="15.12" lengthAdjust="spacingAndGlyphs" stroke="#1c1414" stroke-width="0.35">70</text>
<text x="423.0" y="564.1" font-size="14.6" font-weight="bold" text-anchor="middle" fill="#1c1414" font-family="Liberation Sans" textLength="15.12" lengthAdjust="spacingAndGlyphs" stroke="#1c1414" stroke-width="0.35">83</text>
<text x="477.5" y="564.1" font-size="14.6" font-weight="bold" text-anchor="middle" fill="#1c1414" font-family="Liberation Sans" textLength="18.9" lengthAdjust="spacingAndGlyphs" stroke="#1c1414" stroke-width="0.35">8.5</text>
<text x="530.0" y="564.1" font-size="14.6" font-weight="bold" text-anchor="middle" fill="#1c1414" font-family="Liberation Sans" textLength="30.25" lengthAdjust="spacingAndGlyphs" stroke="#1c1414" stroke-width="0.35">1860</text>
<text x="579.0" y="564.1" font-size="14.6" font-weight="bold" text-anchor="middle" fill="#1c1414" font-family="Liberation Sans" textLength="22.68" lengthAdjust="spacingAndGlyphs" stroke="#1c1414" stroke-width="0.35">190</text>
<text x="630.5" y="564.1" font-size="14.6" font-weight="bold" text-anchor="middle" fill="#1c1414" font-family="Liberation Sans" textLength="22.68" lengthAdjust="spacingAndGlyphs" stroke="#1c1414" stroke-width="0.35">471</text>
<text x="686.0" y="564.1" font-size="14.6" font-weight="bold" text-anchor="middle" fill="#1c1414" font-family="Liberation Sans" textLength="15.12" lengthAdjust="spacingAndGlyphs" stroke="#1c1414" stroke-width="0.35">48</text>
<text x="185.5" y="586.3" font-size="14.6" font-weight="bold" text-anchor="middle" fill="#1c1414" font-family="Liberation Sans" textLength="26.47" lengthAdjust="spacingAndGlyphs" stroke="#1c1414" stroke-width="0.35">1/25</text>
<text x="258.0" y="586.3" font-size="14.6" font-weight="bold" text-anchor="middle" fill="#1c1414" font-family="Liberation Sans" textLength="41.59" lengthAdjust="spacingAndGlyphs" stroke="#1c1414" stroke-width="0.35">29/720</text>
<text x="351.5" y="586.3" font-size="14.6" font-weight="bold" text-anchor="middle" fill="#1c1414" font-family="Liberation Sans" textLength="15.12" lengthAdjust="spacingAndGlyphs" stroke="#1c1414" stroke-width="0.35">56</text>
<text x="423.0" y="586.3" font-size="14.6" font-weight="bold" text-anchor="middle" fill="#1c1414" font-family="Liberation Sans" textLength="22.68" lengthAdjust="spacingAndGlyphs" stroke="#1c1414" stroke-width="0.35">104</text>
<text x="477.5" y="586.3" font-size="14.6" font-weight="bold" text-anchor="middle" fill="#1c1414" font-family="Liberation Sans" textLength="26.47" lengthAdjust="spacingAndGlyphs" stroke="#1c1414" stroke-width="0.35">10.6</text>
<text x="530.0" y="586.3" font-size="14.6" font-weight="bold" text-anchor="middle" fill="#1c1414" font-family="Liberation Sans" textLength="30.25" lengthAdjust="spacingAndGlyphs" stroke="#1c1414" stroke-width="0.35">2010</text>
<text x="579.0" y="586.3" font-size="14.6" font-weight="bold" text-anchor="middle" fill="#1c1414" font-family="Liberation Sans" textLength="22.68" lengthAdjust="spacingAndGlyphs" stroke="#1c1414" stroke-width="0.35">205</text>
<text x="630.5" y="586.3" font-size="14.6" font-weight="bold" text-anchor="middle" fill="#1c1414" font-family="Liberation Sans" textLength="22.68" lengthAdjust="spacingAndGlyphs" stroke="#1c1414" stroke-width="0.35">500</text>
<text x="686.0" y="586.3" font-size="14.6" font-weight="bold" text-anchor="middle" fill="#1c1414" font-family="Liberation Sans" textLength="15.12" lengthAdjust="spacingAndGlyphs" stroke="#1c1414" stroke-width="0.35">51</text>
<text x="185.5" y="608.6999999999999" font-size="14.6" font-weight="bold" text-anchor="middle" fill="#1c1414" font-family="Liberation Sans" textLength="26.47" lengthAdjust="spacingAndGlyphs" stroke="#1c1414" stroke-width="0.35">1/30</text>
<text x="258.0" y="608.6999999999999" font-size="14.6" font-weight="bold" text-anchor="middle" fill="#1c1414" font-family="Liberation Sans" textLength="26.47" lengthAdjust="spacingAndGlyphs" stroke="#1c1414" stroke-width="0.35">1/30</text>
<text x="351.5" y="608.6999999999999" font-size="14.6" font-weight="bold" text-anchor="middle" fill="#1c1414" font-family="Liberation Sans" textLength="15.12" lengthAdjust="spacingAndGlyphs" stroke="#1c1414" stroke-width="0.35">47</text>
<text x="423.0" y="608.6999999999999" font-size="14.6" font-weight="bold" text-anchor="middle" fill="#1c1414" font-family="Liberation Sans" textLength="22.68" lengthAdjust="spacingAndGlyphs" stroke="#1c1414" stroke-width="0.35">124</text>
<text x="477.5" y="608.6999999999999" font-size="14.6" font-weight="bold" text-anchor="middle" fill="#1c1414" font-family="Liberation Sans" textLength="26.47" lengthAdjust="spacingAndGlyphs" stroke="#1c1414" stroke-width="0.35">12.7</text>
<text x="530.0" y="608.6999999999999" font-size="14.6" font-weight="bold" text-anchor="middle" fill="#1c1414" font-family="Liberation Sans" textLength="30.25" lengthAdjust="spacingAndGlyphs" stroke="#1c1414" stroke-width="0.35">2300</text>
<text x="579.0" y="608.6999999999999" font-size="14.6" font-weight="bold" text-anchor="middle" fill="#1c1414" font-family="Liberation Sans" textLength="22.68" lengthAdjust="spacingAndGlyphs" stroke="#1c1414" stroke-width="0.35">215</text>
<text x="630.5" y="608.6999999999999" font-size="14.6" font-weight="bold" text-anchor="middle" fill="#1c1414" font-family="Liberation Sans" textLength="22.68" lengthAdjust="spacingAndGlyphs" stroke="#1c1414" stroke-width="0.35">530</text>
<text x="686.0" y="608.6999999999999" font-size="14.6" font-weight="bold" text-anchor="middle" fill="#1c1414" font-family="Liberation Sans" textLength="15.12" lengthAdjust="spacingAndGlyphs" stroke="#1c1414" stroke-width="0.35">54</text>
<text x="185.5" y="631.1" font-size="14.6" font-weight="bold" text-anchor="middle" fill="#1c1414" font-family="Liberation Sans" textLength="26.47" lengthAdjust="spacingAndGlyphs" stroke="#1c1414" stroke-width="0.35">1/40</text>
<text x="258.0" y="631.1" font-size="14.6" font-weight="bold" text-anchor="middle" fill="#1c1414" font-family="Liberation Sans" textLength="26.47" lengthAdjust="spacingAndGlyphs" stroke="#1c1414" stroke-width="0.35">1/40</text>
<text x="351.5" y="631.1" font-size="14.6" font-weight="bold" text-anchor="middle" fill="#1c1414" font-family="Liberation Sans" textLength="15.12" lengthAdjust="spacingAndGlyphs" stroke="#1c1414" stroke-width="0.35">35</text>
<text x="423.0" y="631.1" font-size="14.6" font-weight="bold" text-anchor="middle" fill="#1c1414" font-family="Liberation Sans" textLength="22.68" lengthAdjust="spacingAndGlyphs" stroke="#1c1414" stroke-width="0.35">166</text>
<text x="477.5" y="631.1" font-size="14.6" font-weight="bold" text-anchor="middle" fill="#1c1414" font-family="Liberation Sans" textLength="26.47" lengthAdjust="spacingAndGlyphs" stroke="#1c1414" stroke-width="0.35">16.9</text>
<text x="530.0" y="631.1" font-size="14.6" font-weight="bold" text-anchor="middle" fill="#1c1414" font-family="Liberation Sans" textLength="30.25" lengthAdjust="spacingAndGlyphs" stroke="#1c1414" stroke-width="0.35">2450</text>
<text x="579.0" y="631.1" font-size="14.6" font-weight="bold" text-anchor="middle" fill="#1c1414" font-family="Liberation Sans" textLength="22.68" lengthAdjust="spacingAndGlyphs" stroke="#1c1414" stroke-width="0.35">235</text>
<text x="630.5" y="631.1" font-size="14.6" font-weight="bold" text-anchor="middle" fill="#1c1414" font-family="Liberation Sans" textLength="22.68" lengthAdjust="spacingAndGlyphs" stroke="#1c1414" stroke-width="0.35">579</text>
<text x="686.0" y="631.1" font-size="14.6" font-weight="bold" text-anchor="middle" fill="#1c1414" font-family="Liberation Sans" textLength="15.12" lengthAdjust="spacingAndGlyphs" stroke="#1c1414" stroke-width="0.35">59</text>
<text x="185.5" y="653.15" font-size="14.6" font-weight="bold" text-anchor="middle" fill="#1c1414" font-family="Liberation Sans" textLength="26.47" lengthAdjust="spacingAndGlyphs" stroke="#1c1414" stroke-width="0.35">1/50</text>
<text x="258.0" y="653.15" font-size="14.6" font-weight="bold" text-anchor="middle" fill="#1c1414" font-family="Liberation Sans" textLength="41.59" lengthAdjust="spacingAndGlyphs" stroke="#1c1414" stroke-width="0.35">19/940</text>
<text x="351.5" y="653.15" font-size="14.6" font-weight="bold" text-anchor="middle" fill="#1c1414" font-family="Liberation Sans" textLength="15.12" lengthAdjust="spacingAndGlyphs" stroke="#1c1414" stroke-width="0.35">28</text>
<text x="423.0" y="653.15" font-size="14.6" font-weight="bold" text-anchor="middle" fill="#1c1414" font-family="Liberation Sans" textLength="22.68" lengthAdjust="spacingAndGlyphs" stroke="#1c1414" stroke-width="0.35">208</text>
<text x="477.5" y="653.15" font-size="14.6" font-weight="bold" text-anchor="middle" fill="#1c1414" font-family="Liberation Sans" textLength="26.47" lengthAdjust="spacingAndGlyphs" stroke="#1c1414" stroke-width="0.35">21.2</text>
<text x="530.0" y="653.15" font-size="14.6" font-weight="bold" text-anchor="middle" fill="#1c1414" font-family="Liberation Sans" textLength="30.25" lengthAdjust="spacingAndGlyphs" stroke="#1c1414" stroke-width="0.35">2550</text>
<text x="579.0" y="653.15" font-size="14.6" font-weight="bold" text-anchor="middle" fill="#1c1414" font-family="Liberation Sans" textLength="22.68" lengthAdjust="spacingAndGlyphs" stroke="#1c1414" stroke-width="0.35">250</text>
<text x="630.5" y="653.15" font-size="14.6" font-weight="bold" text-anchor="middle" fill="#1c1414" font-family="Liberation Sans" textLength="22.68" lengthAdjust="spacingAndGlyphs" stroke="#1c1414" stroke-width="0.35">618</text>
<text x="686.0" y="653.15" font-size="14.6" font-weight="bold" text-anchor="middle" fill="#1c1414" font-family="Liberation Sans" textLength="15.12" lengthAdjust="spacingAndGlyphs" stroke="#1c1414" stroke-width="0.35">63</text>
<text x="185.5" y="675.25" font-size="14.6" font-weight="bold" text-anchor="middle" fill="#1c1414" font-family="Liberation Sans" textLength="26.47" lengthAdjust="spacingAndGlyphs" stroke="#1c1414" stroke-width="0.35">1/60</text>
<text x="258.0" y="675.25" font-size="14.6" font-weight="bold" text-anchor="middle" fill="#1c1414" font-family="Liberation Sans" textLength="26.47" lengthAdjust="spacingAndGlyphs" stroke="#1c1414" stroke-width="0.35">1/60</text>
<text x="351.5" y="675.25" font-size="14.6" font-weight="bold" text-anchor="middle" fill="#1c1414" font-family="Liberation Sans" textLength="15.12" lengthAdjust="spacingAndGlyphs" stroke="#1c1414" stroke-width="0.35">23</text>
<text x="423.0" y="675.25" font-size="14.6" font-weight="bold" text-anchor="middle" fill="#1c1414" font-family="Liberation Sans" textLength="22.68" lengthAdjust="spacingAndGlyphs" stroke="#1c1414" stroke-width="0.35">249</text>
<text x="477.5" y="675.25" font-size="14.6" font-weight="bold" text-anchor="middle" fill="#1c1414" font-family="Liberation Sans" textLength="26.47" lengthAdjust="spacingAndGlyphs" stroke="#1c1414" stroke-width="0.35">25.4</text>
<text x="530.0" y="675.25" font-size="14.6" font-weight="bold" text-anchor="middle" fill="#1c1414" font-family="Liberation Sans" textLength="30.25" lengthAdjust="spacingAndGlyphs" stroke="#1c1414" stroke-width="0.35">2550</text>
<text x="579.0" y="675.25" font-size="14.6" font-weight="bold" text-anchor="middle" fill="#1c1414" font-family="Liberation Sans" textLength="22.68" lengthAdjust="spacingAndGlyphs" stroke="#1c1414" stroke-width="0.35">260</text>
<text x="630.5" y="675.25" font-size="14.6" font-weight="bold" text-anchor="middle" fill="#1c1414" font-family="Liberation Sans" textLength="22.68" lengthAdjust="spacingAndGlyphs" stroke="#1c1414" stroke-width="0.35">637</text>
<text x="686.0" y="675.25" font-size="14.6" font-weight="bold" text-anchor="middle" fill="#1c1414" font-family="Liberation Sans" textLength="15.12" lengthAdjust="spacingAndGlyphs" stroke="#1c1414" stroke-width="0.35">65</text>
<text x="185.5" y="697.4" font-size="14.6" font-weight="bold" text-anchor="middle" fill="#1c1414" font-family="Liberation Sans" textLength="18.9" lengthAdjust="spacingAndGlyphs" stroke="#1c1414" stroke-width="0.35">1/5</text>
<text x="258.0" y="697.4" font-size="14.6" font-weight="bold" text-anchor="middle" fill="#1c1414" font-family="Liberation Sans" textLength="18.9" lengthAdjust="spacingAndGlyphs" stroke="#1c1414" stroke-width="0.35">1/5</text>
<text x="351.5" y="697.4" font-size="14.6" font-weight="bold" text-anchor="middle" fill="#1c1414" font-family="Liberation Sans" textLength="22.68" lengthAdjust="spacingAndGlyphs" stroke="#1c1414" stroke-width="0.35">280</text>
<text x="423.0" y="697.4" font-size="14.6" font-weight="bold" text-anchor="middle" fill="#1c1414" font-family="Liberation Sans" textLength="15.12" lengthAdjust="spacingAndGlyphs" stroke="#1c1414" stroke-width="0.35">21</text>
<text x="477.5" y="697.4" font-size="14.6" font-weight="bold" text-anchor="middle" fill="#1c1414" font-family="Liberation Sans" textLength="18.9" lengthAdjust="spacingAndGlyphs" stroke="#1c1414" stroke-width="0.35">2.1</text>
<text x="530.0" y="697.4" font-size="14.6" font-weight="bold" text-anchor="middle" fill="#1c1414" font-family="Liberation Sans" textLength="30.25" lengthAdjust="spacingAndGlyphs" stroke="#1c1414" stroke-width="0.35">1960</text>
<text x="579.0" y="697.4" font-size="14.6" font-weight="bold" text-anchor="middle" fill="#1c1414" font-family="Liberation Sans" textLength="22.68" lengthAdjust="spacingAndGlyphs" stroke="#1c1414" stroke-width="0.35">200</text>
<text x="630.5" y="697.4" font-size="14.6" font-weight="bold" text-anchor="middle" fill="#1c1414" font-family="Liberation Sans" textLength="22.68" lengthAdjust="spacingAndGlyphs" stroke="#1c1414" stroke-width="0.35">490</text>
<text x="686.0" y="697.4" font-size="14.6" font-weight="bold" text-anchor="middle" fill="#1c1414" font-family="Liberation Sans" textLength="15.12" lengthAdjust="spacingAndGlyphs" stroke="#1c1414" stroke-width="0.35">50</text>
<text x="185.5" y="719.85" font-size="14.6" font-weight="bold" text-anchor="middle" fill="#1c1414" font-family="Liberation Sans" textLength="30.25" lengthAdjust="spacingAndGlyphs" stroke="#1c1414" stroke-width="0.35">1/7.5</text>
<text x="258.0" y="719.85" font-size="14.6" font-weight="bold" text-anchor="middle" fill="#1c1414" font-family="Liberation Sans" textLength="26.47" lengthAdjust="spacingAndGlyphs" stroke="#1c1414" stroke-width="0.35">2/15</text>
<text x="351.5" y="719.85" font-size="14.6" font-weight="bold" text-anchor="middle" fill="#1c1414" font-family="Liberation Sans" textLength="22.68" lengthAdjust="spacingAndGlyphs" stroke="#1c1414" stroke-width="0.35">185</text>
<text x="423.0" y="719.85" font-size="14.6" font-weight="bold" text-anchor="middle" fill="#1c1414" font-family="Liberation Sans" textLength="15.12" lengthAdjust="spacingAndGlyphs" stroke="#1c1414" stroke-width="0.35">31</text>
<text x="477.5" y="719.85" font-size="14.6" font-weight="bold" text-anchor="middle" fill="#1c1414" font-family="Liberation Sans" textLength="18.9" lengthAdjust="spacingAndGlyphs" stroke="#1c1414" stroke-width="0.35">3.2</text>
<text x="530.0" y="719.85" font-size="14.6" font-weight="bold" text-anchor="middle" fill="#1c1414" font-family="Liberation Sans" textLength="30.25" lengthAdjust="spacingAndGlyphs" stroke="#1c1414" stroke-width="0.35">2250</text>
<text x="579.0" y="719.85" font-size="14.6" font-weight="bold" text-anchor="middle" fill="#1c1414" font-family="Liberation Sans" textLength="22.68" lengthAdjust="spacingAndGlyphs" stroke="#1c1414" stroke-width="0.35">230</text>
<text x="630.5" y="719.85" font-size="14.6" font-weight="bold" text-anchor="middle" fill="#1c1414" font-family="Liberation Sans" textLength="22.68" lengthAdjust="spacingAndGlyphs" stroke="#1c1414" stroke-width="0.35">441</text>
<text x="686.0" y="719.85" font-size="14.6" font-weight="bold" text-anchor="middle" fill="#1c1414" font-family="Liberation Sans" textLength="15.12" lengthAdjust="spacingAndGlyphs" stroke="#1c1414" stroke-width="0.35">45</text>
<text x="185.5" y="742.55" font-size="14.6" font-weight="bold" text-anchor="middle" fill="#1c1414" font-family="Liberation Sans" textLength="26.47" lengthAdjust="spacingAndGlyphs" stroke="#1c1414" stroke-width="0.35">1/10</text>
<text x="258.0" y="742.55" font-size="14.6" font-weight="bold" text-anchor="middle" fill="#1c1414" font-family="Liberation Sans" textLength="26.47" lengthAdjust="spacingAndGlyphs" stroke="#1c1414" stroke-width="0.35">1/10</text>
<text x="351.5" y="742.55" font-size="14.6" font-weight="bold" text-anchor="middle" fill="#1c1414" font-family="Liberation Sans" textLength="22.68" lengthAdjust="spacingAndGlyphs" stroke="#1c1414" stroke-width="0.35">140</text>
<text x="423.0" y="742.55" font-size="14.6" font-weight="bold" text-anchor="middle" fill="#1c1414" font-family="Liberation Sans" textLength="15.12" lengthAdjust="spacingAndGlyphs" stroke="#1c1414" stroke-width="0.35">41</text>
<text x="477.5" y="742.55" font-size="14.6" font-weight="bold" text-anchor="middle" fill="#1c1414" font-family="Liberation Sans" textLength="18.9" lengthAdjust="spacingAndGlyphs" stroke="#1c1414" stroke-width="0.35">4.2</text>
<text x="530.0" y="742.55" font-size="14.6" font-weight="bold" text-anchor="middle" fill="#1c1414" font-family="Liberation Sans" textLength="30.25" lengthAdjust="spacingAndGlyphs" stroke="#1c1414" stroke-width="0.35">2450</text>
<text x="579.0" y="742.55" font-size="14.6" font-weight="bold" text-anchor="middle" fill="#1c1414" font-family="Liberation Sans" textLength="22.68" lengthAdjust="spacingAndGlyphs" stroke="#1c1414" stroke-width="0.35">250</text>
<text x="630.5" y="742.55" font-size="14.6" font-weight="bold" text-anchor="middle" fill="#1c1414" font-family="Liberation Sans" textLength="22.68" lengthAdjust="spacingAndGlyphs" stroke="#1c1414" stroke-width="0.35">481</text>
<text x="686.0" y="742.55" font-size="14.6" font-weight="bold" text-anchor="middle" fill="#1c1414" font-family="Liberation Sans" textLength="15.12" lengthAdjust="spacingAndGlyphs" stroke="#1c1414" stroke-width="0.35">49</text>
<text x="185.5" y="764.4999999999999" font-size="14.6" font-weight="bold" text-anchor="middle" fill="#1c1414" font-family="Liberation Sans" textLength="37.81" lengthAdjust="spacingAndGlyphs" stroke="#1c1414" stroke-width="0.35">1/12.5</text>
<text x="258.0" y="764.4999999999999" font-size="14.6" font-weight="bold" text-anchor="middle" fill="#1c1414" font-family="Liberation Sans" textLength="41.59" lengthAdjust="spacingAndGlyphs" stroke="#1c1414" stroke-width="0.35">19/235</text>
<text x="351.5" y="764.4999999999999" font-size="14.6" font-weight="bold" text-anchor="middle" fill="#1c1414" font-family="Liberation Sans" textLength="22.68" lengthAdjust="spacingAndGlyphs" stroke="#1c1414" stroke-width="0.35">113</text>
<text x="423.0" y="764.4999999999999" font-size="14.6" font-weight="bold" text-anchor="middle" fill="#1c1414" font-family="Liberation Sans" textLength="15.12" lengthAdjust="spacingAndGlyphs" stroke="#1c1414" stroke-width="0.35">52</text>
<text x="477.5" y="764.4999999999999" font-size="14.6" font-weight="bold" text-anchor="middle" fill="#1c1414" font-family="Liberation Sans" textLength="18.9" lengthAdjust="spacingAndGlyphs" stroke="#1c1414" stroke-width="0.35">5.3</text>
<text x="530.0" y="764.4999999999999" font-size="14.6" font-weight="bold" text-anchor="middle" fill="#1c1414" font-family="Liberation Sans" textLength="30.25" lengthAdjust="spacingAndGlyphs" stroke="#1c1414" stroke-width="0.35">2600</text>
<text x="579.0" y="764.4999999999999" font-size="14.6" font-weight="bold" text-anchor="middle" fill="#1c1414" font-family="Liberation Sans" textLength="22.68" lengthAdjust="spacingAndGlyphs" stroke="#1c1414" stroke-width="0.35">265</text>
<text x="630.5" y="764.4999999999999" font-size="14.6" font-weight="bold" text-anchor="middle" fill="#1c1414" font-family="Liberation Sans" textLength="22.68" lengthAdjust="spacingAndGlyphs" stroke="#1c1414" stroke-width="0.35">647</text>
<text x="686.0" y="764.4999999999999" font-size="14.6" font-weight="bold" text-anchor="middle" fill="#1c1414" font-family="Liberation Sans" textLength="15.12" lengthAdjust="spacingAndGlyphs" stroke="#1c1414" stroke-width="0.35">66</text>
<text x="185.5" y="786.3" font-size="14.6" font-weight="bold" text-anchor="middle" fill="#1c1414" font-family="Liberation Sans" textLength="26.47" lengthAdjust="spacingAndGlyphs" stroke="#1c1414" stroke-width="0.35">1/15</text>
<text x="258.0" y="786.3" font-size="14.6" font-weight="bold" text-anchor="middle" fill="#1c1414" font-family="Liberation Sans" textLength="26.47" lengthAdjust="spacingAndGlyphs" stroke="#1c1414" stroke-width="0.35">1/15</text>
<text x="351.5" y="786.3" font-size="14.6" font-weight="bold" text-anchor="middle" fill="#1c1414" font-family="Liberation Sans" textLength="15.12" lengthAdjust="spacingAndGlyphs" stroke="#1c1414" stroke-width="0.35">93</text>
<text x="423.0" y="786.3" font-size="14.6" font-weight="bold" text-anchor="middle" fill="#1c1414" font-family="Liberation Sans" textLength="15.12" lengthAdjust="spacingAndGlyphs" stroke="#1c1414" stroke-width="0.35">63</text>
<text x="477.5" y="786.3" font-size="14.6" font-weight="bold" text-anchor="middle" fill="#1c1414" font-family="Liberation Sans" textLength="18.9" lengthAdjust="spacingAndGlyphs" stroke="#1c1414" stroke-width="0.35">6.4</text>
<text x="530.0" y="786.3" font-size="14.6" font-weight="bold" text-anchor="middle" fill="#1c1414" font-family="Liberation Sans" textLength="30.25" lengthAdjust="spacingAndGlyphs" stroke="#1c1414" stroke-width="0.35">2740</text>
<text x="579.0" y="786.3" font-size="14.6" font-weight="bold" text-anchor="middle" fill="#1c1414" font-family="Liberation Sans" textLength="22.68" lengthAdjust="spacingAndGlyphs" stroke="#1c1414" stroke-width="0.35">280</text>
<text x="630.5" y="786.3" font-size="14.6" font-weight="bold" text-anchor="middle" fill="#1c1414" font-family="Liberation Sans" textLength="22.68" lengthAdjust="spacingAndGlyphs" stroke="#1c1414" stroke-width="0.35">686</text>
<text x="686.0" y="786.3" font-size="14.6" font-weight="bold" text-anchor="middle" fill="#1c1414" font-family="Liberation Sans" textLength="15.12" lengthAdjust="spacingAndGlyphs" stroke="#1c1414" stroke-width="0.35">70</text>
<text x="185.5" y="808.6" font-size="14.6" font-weight="bold" text-anchor="middle" fill="#1c1414" font-family="Liberation Sans" textLength="26.47" lengthAdjust="spacingAndGlyphs" stroke="#1c1414" stroke-width="0.35">1/20</text>
<text x="258.0" y="808.6" font-size="14.6" font-weight="bold" text-anchor="middle" fill="#1c1414" font-family="Liberation Sans" textLength="26.47" lengthAdjust="spacingAndGlyphs" stroke="#1c1414" stroke-width="0.35">1/20</text>
<text x="351.5" y="808.6" font-size="14.6" font-weight="bold" text-anchor="middle" fill="#1c1414" font-family="Liberation Sans" textLength="15.12" lengthAdjust="spacingAndGlyphs" stroke="#1c1414" stroke-width="0.35">70</text>
<text x="423.0" y="808.6" font-size="14.6" font-weight="bold" text-anchor="middle" fill="#1c1414" font-family="Liberation Sans" textLength="15.12" lengthAdjust="spacingAndGlyphs" stroke="#1c1414" stroke-width="0.35">83</text>
<text x="477.5" y="808.6" font-size="14.6" font-weight="bold" text-anchor="middle" fill="#1c1414" font-family="Liberation Sans" textLength="18.9" lengthAdjust="spacingAndGlyphs" stroke="#1c1414" stroke-width="0.35">8.5</text>
<text x="530.0" y="808.6" font-size="14.6" font-weight="bold" text-anchor="middle" fill="#1c1414" font-family="Liberation Sans" textLength="30.25" lengthAdjust="spacingAndGlyphs" stroke="#1c1414" stroke-width="0.35">2990</text>
<text x="579.0" y="808.6" font-size="14.6" font-weight="bold" text-anchor="middle" fill="#1c1414" font-family="Liberation Sans" textLength="22.68" lengthAdjust="spacingAndGlyphs" stroke="#1c1414" stroke-width="0.35">305</text>
<text x="630.5" y="808.6" font-size="14.6" font-weight="bold" text-anchor="middle" fill="#1c1414" font-family="Liberation Sans" textLength="22.68" lengthAdjust="spacingAndGlyphs" stroke="#1c1414" stroke-width="0.35">745</text>
<text x="686.0" y="808.6" font-size="14.6" font-weight="bold" text-anchor="middle" fill="#1c1414" font-family="Liberation Sans" textLength="15.12" lengthAdjust="spacingAndGlyphs" stroke="#1c1414" stroke-width="0.35">76</text>
<text x="185.5" y="830.9999999999999" font-size="14.6" font-weight="bold" text-anchor="middle" fill="#1c1414" font-family="Liberation Sans" textLength="26.47" lengthAdjust="spacingAndGlyphs" stroke="#1c1414" stroke-width="0.35">1/25</text>
<text x="258.0" y="830.9999999999999" font-size="14.6" font-weight="bold" text-anchor="middle" fill="#1c1414" font-family="Liberation Sans" textLength="26.47" lengthAdjust="spacingAndGlyphs" stroke="#1c1414" stroke-width="0.35">1/25</text>
<text x="351.5" y="830.9999999999999" font-size="14.6" font-weight="bold" text-anchor="middle" fill="#1c1414" font-family="Liberation Sans" textLength="15.12" lengthAdjust="spacingAndGlyphs" stroke="#1c1414" stroke-width="0.35">56</text>
<text x="423.0" y="830.9999999999999" font-size="14.6" font-weight="bold" text-anchor="middle" fill="#1c1414" font-family="Liberation Sans" textLength="22.68" lengthAdjust="spacingAndGlyphs" stroke="#1c1414" stroke-width="0.35">104</text>
<text x="477.5" y="830.9999999999999" font-size="14.6" font-weight="bold" text-anchor="middle" fill="#1c1414" font-family="Liberation Sans" textLength="26.47" lengthAdjust="spacingAndGlyphs" stroke="#1c1414" stroke-width="0.35">10.6</text>
<text x="530.0" y="830.9999999999999" font-size="14.6" font-weight="bold" text-anchor="middle" fill="#1c1414" font-family="Liberation Sans" textLength="30.25" lengthAdjust="spacingAndGlyphs" stroke="#1c1414" stroke-width="0.35">3190</text>
<text x="579.0" y="830.9999999999999" font-size="14.6" font-weight="bold" text-anchor="middle" fill="#1c1414" font-family="Liberation Sans" textLength="22.68" lengthAdjust="spacingAndGlyphs" stroke="#1c1414" stroke-width="0.35">325</text>
<text x="630.5" y="830.9999999999999" font-size="14.6" font-weight="bold" text-anchor="middle" fill="#1c1414" font-family="Liberation Sans" textLength="22.68" lengthAdjust="spacingAndGlyphs" stroke="#1c1414" stroke-width="0.35">794</text>
<text x="686.0" y="830.9999999999999" font-size="14.6" font-weight="bold" text-anchor="middle" fill="#1c1414" font-family="Liberation Sans" textLength="15.12" lengthAdjust="spacingAndGlyphs" stroke="#1c1414" stroke-width="0.35">81</text>
<text x="185.5" y="853.4999999999999" font-size="14.6" font-weight="bold" text-anchor="middle" fill="#1c1414" font-family="Liberation Sans" textLength="26.47" lengthAdjust="spacingAndGlyphs" stroke="#1c1414" stroke-width="0.35">1/30</text>
<text x="258.0" y="853.4999999999999" font-size="14.6" font-weight="bold" text-anchor="middle" fill="#1c1414" font-family="Liberation Sans" textLength="26.47" lengthAdjust="spacingAndGlyphs" stroke="#1c1414" stroke-width="0.35">1/30</text>
<text x="351.5" y="853.4999999999999" font-size="14.6" font-weight="bold" text-anchor="middle" fill="#1c1414" font-family="Liberation Sans" textLength="15.12" lengthAdjust="spacingAndGlyphs" stroke="#1c1414" stroke-width="0.35">47</text>
<text x="423.0" y="853.4999999999999" font-size="14.6" font-weight="bold" text-anchor="middle" fill="#1c1414" font-family="Liberation Sans" textLength="22.68" lengthAdjust="spacingAndGlyphs" stroke="#1c1414" stroke-width="0.35">124</text>
<text x="477.5" y="853.4999999999999" font-size="14.6" font-weight="bold" text-anchor="middle" fill="#1c1414" font-family="Liberation Sans" textLength="26.47" lengthAdjust="spacingAndGlyphs" stroke="#1c1414" stroke-width="0.35">12.7</text>
<text x="530.0" y="853.4999999999999" font-size="14.6" font-weight="bold" text-anchor="middle" fill="#1c1414" font-family="Liberation Sans" textLength="30.25" lengthAdjust="spacingAndGlyphs" stroke="#1c1414" stroke-width="0.35">3280</text>
<text x="579.0" y="853.4999999999999" font-size="14.6" font-weight="bold" text-anchor="middle" fill="#1c1414" font-family="Liberation Sans" textLength="22.68" lengthAdjust="spacingAndGlyphs" stroke="#1c1414" stroke-width="0.35">335</text>
<text x="630.5" y="853.4999999999999" font-size="14.6" font-weight="bold" text-anchor="middle" fill="#1c1414" font-family="Liberation Sans" textLength="22.68" lengthAdjust="spacingAndGlyphs" stroke="#1c1414" stroke-width="0.35">824</text>
<text x="686.0" y="853.4999999999999" font-size="14.6" font-weight="bold" text-anchor="middle" fill="#1c1414" font-family="Liberation Sans" textLength="15.12" lengthAdjust="spacingAndGlyphs" stroke="#1c1414" stroke-width="0.35">84</text>
<text x="185.5" y="875.4999999999999" font-size="14.6" font-weight="bold" text-anchor="middle" fill="#1c1414" font-family="Liberation Sans" textLength="37.81" lengthAdjust="spacingAndGlyphs" stroke="#1c1414" stroke-width="0.35">1/37.5</text>
<text x="258.0" y="875.4999999999999" font-size="14.6" font-weight="bold" text-anchor="middle" fill="#1c1414" font-family="Liberation Sans" textLength="41.59" lengthAdjust="spacingAndGlyphs" stroke="#1c1414" stroke-width="0.35">23/860</text>
<text x="351.5" y="875.4999999999999" font-size="14.6" font-weight="bold" text-anchor="middle" fill="#1c1414" font-family="Liberation Sans" textLength="15.12" lengthAdjust="spacingAndGlyphs" stroke="#1c1414" stroke-width="0.35">37</text>
<text x="423.0" y="875.4999999999999" font-size="14.6" font-weight="bold" text-anchor="middle" fill="#1c1414" font-family="Liberation Sans" textLength="22.68" lengthAdjust="spacingAndGlyphs" stroke="#1c1414" stroke-width="0.35">163</text>
<text x="477.5" y="875.4999999999999" font-size="14.6" font-weight="bold" text-anchor="middle" fill="#1c1414" font-family="Liberation Sans" textLength="26.47" lengthAdjust="spacingAndGlyphs" stroke="#1c1414" stroke-width="0.35">16.6</text>
<text x="530.0" y="875.4999999999999" font-size="14.6" font-weight="bold" text-anchor="middle" fill="#1c1414" font-family="Liberation Sans" textLength="30.25" lengthAdjust="spacingAndGlyphs" stroke="#1c1414" stroke-width="0.35">3480</text>
<text x="579.0" y="875.4999999999999" font-size="14.6" font-weight="bold" text-anchor="middle" fill="#1c1414" font-family="Liberation Sans" textLength="22.68" lengthAdjust="spacingAndGlyphs" stroke="#1c1414" stroke-width="0.35">355</text>
<text x="630.5" y="875.4999999999999" font-size="14.6" font-weight="bold" text-anchor="middle" fill="#1c1414" font-family="Liberation Sans" textLength="22.68" lengthAdjust="spacingAndGlyphs" stroke="#1c1414" stroke-width="0.35">705</text>
<text x="686.0" y="875.4999999999999" font-size="14.6" font-weight="bold" text-anchor="middle" fill="#1c1414" font-family="Liberation Sans" textLength="15.12" lengthAdjust="spacingAndGlyphs" stroke="#1c1414" stroke-width="0.35">72</text>
<text x="185.5" y="897.4999999999999" font-size="14.6" font-weight="bold" text-anchor="middle" fill="#1c1414" font-family="Liberation Sans" textLength="26.47" lengthAdjust="spacingAndGlyphs" stroke="#1c1414" stroke-width="0.35">1/40</text>
<text x="258.0" y="897.4999999999999" font-size="14.6" font-weight="bold" text-anchor="middle" fill="#1c1414" font-family="Liberation Sans" textLength="26.47" lengthAdjust="spacingAndGlyphs" stroke="#1c1414" stroke-width="0.35">1/40</text>
<text x="351.5" y="897.4999999999999" font-size="14.6" font-weight="bold" text-anchor="middle" fill="#1c1414" font-family="Liberation Sans" textLength="15.12" lengthAdjust="spacingAndGlyphs" stroke="#1c1414" stroke-width="0.35">35</text>
<text x="423.0" y="897.4999999999999" font-size="14.6" font-weight="bold" text-anchor="middle" fill="#1c1414" font-family="Liberation Sans" textLength="22.68" lengthAdjust="spacingAndGlyphs" stroke="#1c1414" stroke-width="0.35">166</text>
<text x="477.5" y="897.4999999999999" font-size="14.6" font-weight="bold" text-anchor="middle" fill="#1c1414" font-family="Liberation Sans" textLength="26.47" lengthAdjust="spacingAndGlyphs" stroke="#1c1414" stroke-width="0.35">16.9</text>
<text x="530.0" y="897.4999999999999" font-size="14.6" font-weight="bold" text-anchor="middle" fill="#1c1414" font-family="Liberation Sans" textLength="30.25" lengthAdjust="spacingAndGlyphs" stroke="#1c1414" stroke-width="0.35">3480</text>
<text x="579.0" y="897.4999999999999" font-size="14.6" font-weight="bold" text-anchor="middle" fill="#1c1414" font-family="Liberation Sans" textLength="22.68" lengthAdjust="spacingAndGlyphs" stroke="#1c1414" stroke-width="0.35">355</text>
<text x="630.5" y="897.4999999999999" font-size="14.6" font-weight="bold" text-anchor="middle" fill="#1c1414" font-family="Liberation Sans" textLength="22.68" lengthAdjust="spacingAndGlyphs" stroke="#1c1414" stroke-width="0.35">873</text>
<text x="686.0" y="897.4999999999999" font-size="14.6" font-weight="bold" text-anchor="middle" fill="#1c1414" font-family="Liberation Sans" textLength="15.12" lengthAdjust="spacingAndGlyphs" stroke="#1c1414" stroke-width="0.35">89</text>
<text x="185.5" y="920.1" font-size="14.6" font-weight="bold" text-anchor="middle" fill="#1c1414" font-family="Liberation Sans" textLength="26.47" lengthAdjust="spacingAndGlyphs" stroke="#1c1414" stroke-width="0.35">1/50</text>
<text x="258.0" y="920.1" font-size="14.6" font-weight="bold" text-anchor="middle" fill="#1c1414" font-family="Liberation Sans" textLength="41.59" lengthAdjust="spacingAndGlyphs" stroke="#1c1414" stroke-width="0.35">19/940</text>
<text x="351.5" y="920.1" font-size="14.6" font-weight="bold" text-anchor="middle" fill="#1c1414" font-family="Liberation Sans" textLength="15.12" lengthAdjust="spacingAndGlyphs" stroke="#1c1414" stroke-width="0.35">28</text>
<text x="423.0" y="920.1" font-size="14.6" font-weight="bold" text-anchor="middle" fill="#1c1414" font-family="Liberation Sans" textLength="22.68" lengthAdjust="spacingAndGlyphs" stroke="#1c1414" stroke-width="0.35">208</text>
<text x="477.5" y="920.1" font-size="14.6" font-weight="bold" text-anchor="middle" fill="#1c1414" font-family="Liberation Sans" textLength="26.47" lengthAdjust="spacingAndGlyphs" stroke="#1c1414" stroke-width="0.35">21.2</text>
<text x="530.0" y="920.1" font-size="14.6" font-weight="bold" text-anchor="middle" fill="#1c1414" font-family="Liberation Sans" textLength="30.25" lengthAdjust="spacingAndGlyphs" stroke="#1c1414" stroke-width="0.35">3480</text>
<text x="579.0" y="920.1" font-size="14.6" font-weight="bold" text-anchor="middle" fill="#1c1414" font-family="Liberation Sans" textLength="22.68" lengthAdjust="spacingAndGlyphs" stroke="#1c1414" stroke-width="0.35">355</text>
<text x="630.5" y="920.1" font-size="14.6" font-weight="bold" text-anchor="middle" fill="#1c1414" font-family="Liberation Sans" textLength="22.68" lengthAdjust="spacingAndGlyphs" stroke="#1c1414" stroke-width="0.35">873</text>
<text x="686.0" y="920.1" font-size="14.6" font-weight="bold" text-anchor="middle" fill="#1c1414" font-family="Liberation Sans" textLength="15.12" lengthAdjust="spacingAndGlyphs" stroke="#1c1414" stroke-width="0.35">89</text>
<text x="185.5" y="942.5" font-size="14.6" font-weight="bold" text-anchor="middle" fill="#1c1414" font-family="Liberation Sans" textLength="26.47" lengthAdjust="spacingAndGlyphs" stroke="#1c1414" stroke-width="0.35">1/60</text>
<text x="258.0" y="942.5" font-size="14.6" font-weight="bold" text-anchor="middle" fill="#1c1414" font-family="Liberation Sans" textLength="26.47" lengthAdjust="spacingAndGlyphs" stroke="#1c1414" stroke-width="0.35">1/60</text>
<text x="351.5" y="942.5" font-size="14.6" font-weight="bold" text-anchor="middle" fill="#1c1414" font-family="Liberation Sans" textLength="15.12" lengthAdjust="spacingAndGlyphs" stroke="#1c1414" stroke-width="0.35">23</text>
<text x="423.0" y="942.5" font-size="14.6" font-weight="bold" text-anchor="middle" fill="#1c1414" font-family="Liberation Sans" textLength="22.68" lengthAdjust="spacingAndGlyphs" stroke="#1c1414" stroke-width="0.35">249</text>
<text x="477.5" y="942.5" font-size="14.6" font-weight="bold" text-anchor="middle" fill="#1c1414" font-family="Liberation Sans" textLength="26.47" lengthAdjust="spacingAndGlyphs" stroke="#1c1414" stroke-width="0.35">25.4</text>
<text x="530.0" y="942.5" font-size="14.6" font-weight="bold" text-anchor="middle" fill="#1c1414" font-family="Liberation Sans" textLength="30.25" lengthAdjust="spacingAndGlyphs" stroke="#1c1414" stroke-width="0.35">3480</text>
<text x="579.0" y="942.5" font-size="14.6" font-weight="bold" text-anchor="middle" fill="#1c1414" font-family="Liberation Sans" textLength="22.68" lengthAdjust="spacingAndGlyphs" stroke="#1c1414" stroke-width="0.35">355</text>
<text x="630.5" y="942.5" font-size="14.6" font-weight="bold" text-anchor="middle" fill="#1c1414" font-family="Liberation Sans" textLength="22.68" lengthAdjust="spacingAndGlyphs" stroke="#1c1414" stroke-width="0.35">873</text>
<text x="686.0" y="942.5" font-size="14.6" font-weight="bold" text-anchor="middle" fill="#1c1414" font-family="Liberation Sans" textLength="15.12" lengthAdjust="spacingAndGlyphs" stroke="#1c1414" stroke-width="0.35">89</text>
<text x="185.5" y="964.0500000000001" font-size="13.5" font-weight="normal" text-anchor="middle" fill="#1c1414" font-family="Liberation Sans" stroke="#1c1414" stroke-width="0.7">1/80</text>
<text x="258.0" y="964.0500000000001" font-size="13.5" font-weight="normal" text-anchor="middle" fill="#1c1414" font-family="Liberation Sans" stroke="#1c1414" stroke-width="0.7">1/80</text>
<text x="351.5" y="965.5500000000001" font-size="13.5" font-weight="normal" text-anchor="middle" fill="#1c1414" font-family="Liberation Sans" stroke="#1c1414" stroke-width="0.7">17. 5</text>
<text x="423.0" y="964.35" font-size="14.6" font-weight="bold" text-anchor="middle" fill="#1c1414" font-family="Liberation Sans" textLength="22.68" lengthAdjust="spacingAndGlyphs" stroke="#1c1414" stroke-width="0.35">316</text>
<text x="477.5" y="964.35" font-size="14.6" font-weight="bold" text-anchor="middle" fill="#1c1414" font-family="Liberation Sans" textLength="26.47" lengthAdjust="spacingAndGlyphs" stroke="#1c1414" stroke-width="0.35">32.2</text>
<text x="530.0" y="964.35" font-size="14.6" font-weight="bold" text-anchor="middle" fill="#1c1414" font-family="Liberation Sans" textLength="30.25" lengthAdjust="spacingAndGlyphs" stroke="#1c1414" stroke-width="0.35">3480</text>
<text x="579.0" y="964.35" font-size="14.6" font-weight="bold" text-anchor="middle" fill="#1c1414" font-family="Liberation Sans" textLength="22.68" lengthAdjust="spacingAndGlyphs" stroke="#1c1414" stroke-width="0.35">355</text>
<text x="630.5" y="964.35" font-size="14.6" font-weight="bold" text-anchor="middle" fill="#1c1414" font-family="Liberation Sans" textLength="22.68" lengthAdjust="spacingAndGlyphs" stroke="#1c1414" stroke-width="0.35">873</text>
<text x="686.0" y="964.35" font-size="14.6" font-weight="bold" text-anchor="middle" fill="#1c1414" font-family="Liberation Sans" textLength="15.12" lengthAdjust="spacingAndGlyphs" stroke="#1c1414" stroke-width="0.35">89</text>
<text x="185.5" y="986.2" font-size="13.5" font-weight="normal" text-anchor="middle" fill="#1c1414" font-family="Liberation Sans" stroke="#1c1414" stroke-width="0.7">1/100</text>
<text x="258.0" y="986.2" font-size="13.5" font-weight="normal" text-anchor="middle" fill="#1c1414" font-family="Liberation Sans" stroke="#1c1414" stroke-width="0.7">19/1860</text>
<text x="351.5" y="987.7" font-size="13.5" font-weight="normal" text-anchor="middle" fill="#1c1414" font-family="Liberation Sans" stroke="#1c1414" stroke-width="0.7">14</text>
<text x="423.0" y="986.5" font-size="14.6" font-weight="bold" text-anchor="middle" fill="#1c1414" font-family="Liberation Sans" textLength="22.68" lengthAdjust="spacingAndGlyphs" stroke="#1c1414" stroke-width="0.35">395</text>
<text x="477.5" y="986.5" font-size="14.6" font-weight="bold" text-anchor="middle" fill="#1c1414" font-family="Liberation Sans" textLength="26.47" lengthAdjust="spacingAndGlyphs" stroke="#1c1414" stroke-width="0.35">40.3</text>
<text x="530.0" y="986.5" font-size="14.6" font-weight="bold" text-anchor="middle" fill="#1c1414" font-family="Liberation Sans" textLength="30.25" lengthAdjust="spacingAndGlyphs" stroke="#1c1414" stroke-width="0.35">3480</text>
<text x="579.0" y="986.5" font-size="14.6" font-weight="bold" text-anchor="middle" fill="#1c1414" font-family="Liberation Sans" textLength="22.68" lengthAdjust="spacingAndGlyphs" stroke="#1c1414" stroke-width="0.35">360</text>
<text x="630.5" y="986.5" font-size="14.6" font-weight="bold" text-anchor="middle" fill="#1c1414" font-family="Liberation Sans" textLength="22.68" lengthAdjust="spacingAndGlyphs" stroke="#1c1414" stroke-width="0.35">883</text>
<text x="686.0" y="986.5" font-size="14.6" font-weight="bold" text-anchor="middle" fill="#1c1414" font-family="Liberation Sans" textLength="15.12" lengthAdjust="spacingAndGlyphs" stroke="#1c1414" stroke-width="0.35">90</text>
<text x="185.5" y="1009.85" font-size="13.5" font-weight="normal" text-anchor="middle" fill="#1c1414" font-family="Liberation Sans" stroke="#1c1414" stroke-width="0.7">1/120</text>
<text x="258.0" y="1009.85" font-size="13.5" font-weight="normal" text-anchor="middle" fill="#1c1414" font-family="Liberation Sans" stroke="#1c1414" stroke-width="0.7">1/120</text>
<text x="351.5" y="1013.35" font-size="13.5" font-weight="normal" text-anchor="middle" fill="#1c1414" font-family="Liberation Sans" stroke="#1c1414" stroke-width="0.7">12</text>
<text x="423.0" y="1012.15" font-size="14.6" font-weight="bold" text-anchor="middle" fill="#1c1414" font-family="Liberation Sans" textLength="22.68" lengthAdjust="spacingAndGlyphs" stroke="#1c1414" stroke-width="0.35">473</text>
<text x="477.5" y="1012.15" font-size="14.6" font-weight="bold" text-anchor="middle" fill="#1c1414" font-family="Liberation Sans" textLength="26.47" lengthAdjust="spacingAndGlyphs" stroke="#1c1414" stroke-width="0.35">48.3</text>
<text x="530.0" y="1012.15" font-size="14.6" font-weight="bold" text-anchor="middle" fill="#1c1414" font-family="Liberation Sans" textLength="30.25" lengthAdjust="spacingAndGlyphs" stroke="#1c1414" stroke-width="0.35">3530</text>
<text x="579.0" y="1012.15" font-size="14.6" font-weight="bold" text-anchor="middle" fill="#1c1414" font-family="Liberation Sans" textLength="22.68" lengthAdjust="spacingAndGlyphs" stroke="#1c1414" stroke-width="0.35">360</text>
<text x="630.5" y="1012.15" font-size="14.6" font-weight="bold" text-anchor="middle" fill="#1c1414" font-family="Liberation Sans" textLength="22.68" lengthAdjust="spacingAndGlyphs" stroke="#1c1414" stroke-width="0.35">883</text>
<text x="686.0" y="1012.15" font-size="14.6" font-weight="bold" text-anchor="middle" fill="#1c1414" font-family="Liberation Sans" textLength="15.12" lengthAdjust="spacingAndGlyphs" stroke="#1c1414" stroke-width="0.35">90</text>
<text x="131.2" y="554" font-size="17.5" font-weight="bold" text-anchor="middle" fill="#1c1414" font-family="Liberation Sans" textLength="17.5" lengthAdjust="spacingAndGlyphs" stroke="#1c1414" stroke-width="0.15">30</text>
<text x="133" y="573.5" font-size="17.5" font-weight="bold" text-anchor="middle" fill="#1c1414" font-family="Liberation Sans" textLength="28.5" lengthAdjust="spacingAndGlyphs" stroke="#1c1414" stroke-width="0.15">(28)</text>
<text x="130" y="844.8" font-size="17.5" font-weight="bold" text-anchor="middle" fill="#1c1414" font-family="Liberation Sans" textLength="17.5" lengthAdjust="spacingAndGlyphs" stroke="#1c1414" stroke-width="0.15">35</text>
<text x="131.2" y="864.3" font-size="17.5" font-weight="bold" text-anchor="middle" fill="#1c1414" font-family="Liberation Sans" textLength="28.5" lengthAdjust="spacingAndGlyphs" stroke="#1c1414" stroke-width="0.15">(32)</text>
<text x="162.6" y="1018.2" font-size="9" font-weight="bold" text-anchor="start" fill="#1c1414" font-family="Liberation Sans" textLength="9" lengthAdjust="spacingAndGlyphs" stroke="#1c1414" stroke-width="0.6">35</text>
<text x="72.0" y="735.6" font-size="18" font-weight="bold" text-anchor="middle" fill="#1c1414" font-family="Liberation Sans" textLength="56" lengthAdjust="spacingAndGlyphs" stroke="#1c1414" stroke-width="0.35">0.75kW</text>
<text x="744.5" y="530" font-size="17.5" font-weight="bold" text-anchor="middle" fill="#1c1414" font-family="Liberation Sans" textLength="35.5" lengthAdjust="spacingAndGlyphs" stroke="#1c1414" stroke-width="0.2">J–32</text>
<text x="744.5" y="570" font-size="17.5" font-weight="bold" text-anchor="middle" fill="#1c1414" font-family="Liberation Sans" textLength="35.5" lengthAdjust="spacingAndGlyphs" stroke="#1c1414" stroke-width="0.2">J–33</text>
<text x="744.5" y="819.5" font-size="17.5" font-weight="bold" text-anchor="middle" fill="#1c1414" font-family="Liberation Sans" textLength="35.5" lengthAdjust="spacingAndGlyphs" stroke="#1c1414" stroke-width="0.2">J–34</text>
<text x="744.5" y="860.5" font-size="17.5" font-weight="bold" text-anchor="middle" fill="#1c1414" font-family="Liberation Sans" textLength="35.5" lengthAdjust="spacingAndGlyphs" stroke="#1c1414" stroke-width="0.2">J–35</text>
<text x="41" y="1052" font-size="14" font-weight="normal" text-anchor="start" fill="#1c1414" font-family="Liberation Sans" textLength="333" lengthAdjust="spacingAndGlyphs" stroke="#1c1414" stroke-width="0.7">(注 ) 1.容許O.H.L爲輸出軸端面20mm位置的數值。</text>
<path d="M58 1065 L741 1065 L744 1068 L744 1327 L741 1330 L59 1330 L56 1327 L56 1068 Z" fill="none" stroke="#1c1414" stroke-width="2.5"/>
<rect x="65" y="1071.8" width="51.4" height="17.7" fill="#93c5ea" stroke="#1c1414" stroke-width="1.4"/>
<rect x="68.3" y="1074.3" width="11.8" height="13.1" fill="#1c1414" />
<rect x="70" y="1075.5" width="0.9" height="3" fill="#cfe6f8" />
<rect x="76.5" y="1075.5" width="0.9" height="3" fill="#cfe6f8" />
<text x="81.4" y="1087.4" font-size="17.5" font-weight="bold" text-anchor="start" fill="#1c1414" font-family="Liberation Sans" textLength="33.3" lengthAdjust="spacingAndGlyphs" stroke="#1c1414" stroke-width="0.2">J–32</text>
<text x="121.2" y="1086.6" font-size="16.5" font-weight="bold" text-anchor="start" fill="#1c1414" font-family="Liberation Sans" textLength="281" lengthAdjust="spacingAndGlyphs" stroke="#1c1414" stroke-width="0.25">F3S30(8)-(5~15)K-X120+750WS3F</text>
<path d="M58 1406 L741 1406 L744 1409 L744 1667 L741 1670 L59 1670 L56 1667 L56 1409 Z" fill="none" stroke="#1c1414" stroke-width="2.5"/>
<rect x="65" y="1412.8" width="51.4" height="17.7" fill="#93c5ea" stroke="#1c1414" stroke-width="1.4"/>
<rect x="68.3" y="1415.3" width="11.8" height="13.1" fill="#1c1414" />
<rect x="70" y="1416.5" width="0.9" height="3" fill="#cfe6f8" />
<rect x="76.5" y="1416.5" width="0.9" height="3" fill="#cfe6f8" />
<text x="81.4" y="1428.4" font-size="17.5" font-weight="bold" text-anchor="start" fill="#1c1414" font-family="Liberation Sans" textLength="33.3" lengthAdjust="spacingAndGlyphs" stroke="#1c1414" stroke-width="0.2">J–33</text>
<text x="121.2" y="1427.6" font-size="16.5" font-weight="bold" text-anchor="start" fill="#1c1414" font-family="Liberation Sans" textLength="306" lengthAdjust="spacingAndGlyphs" stroke="#1c1414" stroke-width="0.25">F3S30(8)-(20~60)K-X120+750WS3F</text>
<rect x="84.5" y="1177" width="110.1" height="74.59999999999991" rx="6" fill="#92c5ea" stroke="#1c1414" stroke-width="1.8"/>
<rect x="87.5" y="1180" width="104.1" height="68.59999999999991" rx="4" fill="none" stroke="#1c1414" stroke-width="0.6" stroke-dasharray="3,2"/>
<polygon points="106.8,1179.5 169.3,1179.5 190.3,1200.5 190.3,1231.5 169.3,1250.5 106.8,1250.5 88.8,1232.5 88.8,1198.5" fill="none" stroke="#1c1414" stroke-width="2.8"/>
<circle cx="91.9" cy="1183.9" r="4" fill="#1c1414"/>
<circle cx="91.9" cy="1183.9" r="1.2" fill="#92c5ea"/>
<circle cx="186.75" cy="1183.9" r="4" fill="#1c1414"/>
<circle cx="186.75" cy="1183.9" r="1.2" fill="#92c5ea"/>
<circle cx="91.9" cy="1243.75" r="4" fill="#1c1414"/>
<circle cx="91.9" cy="1243.75" r="1.2" fill="#92c5ea"/>
<circle cx="186.75" cy="1243.75" r="4" fill="#1c1414"/>
<circle cx="186.75" cy="1243.75" r="1.2" fill="#92c5ea"/>
<circle cx="122" cy="1213.5" r="26.2" fill="none" stroke="#1c1414" stroke-width="2"/>
<circle cx="122" cy="1213.5" r="22.5" fill="none" stroke="#1c1414" stroke-width="1.3"/>
<circle cx="122" cy="1213.5" r="13.5" fill="#ffffff" stroke="#1c1414" stroke-width="3.5"/>
<circle cx="122" cy="1213.5" r="9.5" fill="#ffffff" stroke="#1c1414" stroke-width="0.8"/>
<rect x="195.5" y="1172.4" width="11" height="83.6" fill="#92c5ea" stroke="#1c1414" stroke-width="1.2"/>
<rect x="205" y="1172.4" width="2.5" height="83.6" fill="#1c1414" />
<rect x="207.5" y="1194.5" width="4.5" height="39.5" fill="#92c5ea" stroke="#1c1414" stroke-width="1.2"/>
<line x1="80" y1="1213.5" x2="250" y2="1213.5" stroke="#1c1414" stroke-width="1.3" stroke-dasharray="10,2,2,2"/>
<line x1="122" y1="1163" x2="122" y2="1260" stroke="#1c1414" stroke-width="1.3" stroke-dasharray="10,2,2,2"/>
<line x1="91.7" y1="1169.8" x2="188.5" y2="1169.8" stroke="#1c1414" stroke-width="1.3" />
<line x1="91.7" y1="1165" x2="91.7" y2="1178" stroke="#1c1414" stroke-width="1.3" />
<line x1="188.5" y1="1165" x2="188.5" y2="1178" stroke="#1c1414" stroke-width="1.3" />
<text x="108.7" y="1167.7" font-size="9.8" font-weight="bold" text-anchor="middle" fill="#1c1414" font-family="Liberation Sans" textLength="13" lengthAdjust="spacingAndGlyphs" stroke="#1c1414" stroke-width="0.3">46</text>
<text x="147.5" y="1167.7" font-size="9.8" font-weight="bold" text-anchor="middle" fill="#1c1414" font-family="Liberation Sans" textLength="12" lengthAdjust="spacingAndGlyphs" stroke="#1c1414" stroke-width="0.3">91</text>
<line x1="233.6" y1="1184" x2="233.6" y2="1243.6" stroke="#1c1414" stroke-width="1.3" />
<line x1="208" y1="1184" x2="238" y2="1184" stroke="#1c1414" stroke-width="1.2" />
<line x1="208" y1="1243.6" x2="238" y2="1243.6" stroke="#1c1414" stroke-width="1.2" />
<text x="0" y="0" transform="translate(230,1199) rotate(-90)" font-size="9.8" font-weight="bold" text-anchor="middle" fill="#1c1414" font-family="Liberation Sans" stroke="#1c1414" stroke-width="0.3" textLength="13" lengthAdjust="spacingAndGlyphs">48</text>
<text x="0" y="0" transform="translate(230,1229) rotate(-90)" font-size="9.8" font-weight="bold" text-anchor="middle" fill="#1c1414" font-family="Liberation Sans" stroke="#1c1414" stroke-width="0.3" textLength="13" lengthAdjust="spacingAndGlyphs">48</text>
<polyline points="188,1246 194,1268 235,1268" fill="none" stroke="#1c1414" stroke-width="1.2"/>
<text x="199" y="1265.5" font-size="9.8" font-weight="bold" text-anchor="start" fill="#1c1414" font-family="Liberation Sans" textLength="34" lengthAdjust="spacingAndGlyphs" stroke="#1c1414" stroke-width="0.3">4-Φ11</text>
<ellipse cx="314.7" cy="1213" rx="44" ry="42.5" fill="#c4e6fa" stroke="#1c1414" stroke-width="6.2"/>
<rect x="289.6" y="1256.3" width="50.2" height="27" fill="#c4e6fa" stroke="#1c1414" stroke-width="1.2"/>
<rect x="289.6" y="1281" width="50.2" height="3.5" fill="#1c1414" />
<rect x="296" y="1254" width="40" height="4" fill="#1c1414" />
<rect x="286.8" y="1178" width="61.2" height="73.5" fill="#92c5ea" stroke="#1c1414" stroke-width="1.5"/>
<line x1="338.4" y1="1178" x2="338.4" y2="1251.5" stroke="#1c1414" stroke-width="1.4" />
<line x1="286.8" y1="1191.6" x2="324.6" y2="1191.6" stroke="#1c1414" stroke-width="1.3" />
<line x1="286.8" y1="1195.8" x2="324.6" y2="1195.8" stroke="#1c1414" stroke-width="1.3" />
<line x1="324.6" y1="1184" x2="324.6" y2="1209.5" stroke="#1c1414" stroke-width="1.6" />
<line x1="286.8" y1="1232.9" x2="324.6" y2="1232.9" stroke="#1c1414" stroke-width="1.3" />
<line x1="286.8" y1="1237.7" x2="324.6" y2="1237.7" stroke="#1c1414" stroke-width="1.3" />
<line x1="324.6" y1="1219.8" x2="324.6" y2="1245.3" stroke="#1c1414" stroke-width="1.6" />
<rect x="280.6" y="1200" width="2.8" height="28.8" fill="#1c1414" />
<line x1="351.5" y1="1191.6" x2="351.5" y2="1227.4" stroke="#1c1414" stroke-width="1" />
<line x1="355" y1="1191.6" x2="355" y2="1227.4" stroke="#1c1414" stroke-width="1" />
<line x1="252" y1="1215" x2="372" y2="1215" stroke="#1c1414" stroke-width="1.3" stroke-dasharray="10,2,2,2"/>
<line x1="314.7" y1="1140" x2="314.7" y2="1292" stroke="#1c1414" stroke-width="1.3" stroke-dasharray="10,2,2,2"/>
<line x1="284" y1="1269" x2="346" y2="1269" stroke="#1c1414" stroke-width="1.3" stroke-dasharray="10,2,2,2"/>
<line x1="267.8" y1="1128.8" x2="348.5" y2="1128.8" stroke="#1c1414" stroke-width="1.3" />
<line x1="267.8" y1="1123" x2="267.8" y2="1215" stroke="#1c1414" stroke-width="1.2" />
<line x1="348.5" y1="1123" x2="348.5" y2="1178" stroke="#1c1414" stroke-width="1.2" />
<text x="312" y="1126.5" font-size="9.8" font-weight="bold" text-anchor="middle" fill="#1c1414" font-family="Liberation Sans" textLength="19" lengthAdjust="spacingAndGlyphs" stroke="#1c1414" stroke-width="0.3">134</text>
<line x1="282.8" y1="1143.8" x2="348.5" y2="1143.8" stroke="#1c1414" stroke-width="1.3" />
<line x1="282.8" y1="1137" x2="282.8" y2="1178" stroke="#1c1414" stroke-width="1.2" />
<text x="298" y="1141.5" font-size="9.8" font-weight="bold" text-anchor="middle" fill="#1c1414" font-family="Liberation Sans" textLength="12" lengthAdjust="spacingAndGlyphs" stroke="#1c1414" stroke-width="0.3">55</text>
<text x="332" y="1141.5" font-size="9.8" font-weight="bold" text-anchor="middle" fill="#1c1414" font-family="Liberation Sans" textLength="12" lengthAdjust="spacingAndGlyphs" stroke="#1c1414" stroke-width="0.3">60</text>
<line x1="332.5" y1="1166.3" x2="381.3" y2="1166.3" stroke="#1c1414" stroke-width="1.3" />
<line x1="338.4" y1="1160" x2="338.4" y2="1178" stroke="#1c1414" stroke-width="1.2" />
<text x="367" y="1164" font-size="9.8" font-weight="bold" text-anchor="middle" fill="#1c1414" font-family="Liberation Sans" textLength="22" lengthAdjust="spacingAndGlyphs" stroke="#1c1414" stroke-width="0.3">15.5</text>
<rect x="440.8" y="1177.7" width="111.49999999999994" height="73.20000000000005" rx="5" fill="#92c5ea" stroke="#1c1414" stroke-width="1.8"/>
<polygon points="458.8,1182.2 529.3,1182.2 548.3,1199.7 548.3,1231.9 529.3,1247.9 458.8,1247.9 444.8,1231.9 444.8,1196.7" fill="none" stroke="#1c1414" stroke-width="2.8"/>
<circle cx="446.8" cy="1183.7" r="3.8" fill="#1c1414"/>
<circle cx="446.8" cy="1183.7" r="1.3" fill="#92c5ea"/>
<circle cx="546.3" cy="1183.7" r="3.8" fill="#1c1414"/>
<circle cx="546.3" cy="1183.7" r="1.3" fill="#92c5ea"/>
<circle cx="446.8" cy="1244.9" r="3.8" fill="#1c1414"/>
<circle cx="446.8" cy="1244.9" r="1.3" fill="#92c5ea"/>
<circle cx="546.3" cy="1244.9" r="3.8" fill="#1c1414"/>
<circle cx="546.3" cy="1244.9" r="1.3" fill="#92c5ea"/>
<circle cx="478" cy="1215" r="27" fill="none" stroke="#1c1414" stroke-width="1.3"/>
<circle cx="478" cy="1215" r="24.5" fill="none" stroke="#1c1414" stroke-width="1.3"/>
<circle cx="478" cy="1215" r="20" fill="none" stroke="#1c1414" stroke-width="1.2"/>
<circle cx="478" cy="1215" r="17" fill="none" stroke="#1c1414" stroke-width="1.0"/>
<circle cx="478" cy="1215" r="13" fill="none" stroke="#1c1414" stroke-width="2.5"/>
<circle cx="478" cy="1215" r="8.5" fill="#ffffff" stroke="#1c1414" stroke-width="1.5"/>
<rect x="552" y="1173.75" width="9.5" height="83" fill="#92c5ea" stroke="#1c1414" stroke-width="1.2"/>
<rect x="561.5" y="1176" width="83.0" height="78.5" fill="#c4e6fa"/>
<rect x="561.5" y="1175.6" width="79.0" height="3" fill="#1c1414" />
<rect x="566.5" y="1181.6" width="72.0" height="9.4" fill="#1c1414" />
<rect x="566.5" y="1238.8" width="72.0" height="10.2" fill="#1c1414" />
<rect x="561.5" y="1251" width="79.0" height="3.2" fill="#1c1414" />
<line x1="582.0" y1="1190" x2="582.0" y2="1240" stroke="#1c1414" stroke-width="1.3" />
<line x1="644.5" y1="1175" x2="644.5" y2="1255" stroke="#1c1414" stroke-width="1.2" />
<polygon points="593,1251 640.5,1251 644.5,1257 593,1257" fill="#1c1414"/>
<rect x="596" y="1256.6" width="48.5" height="28.2" fill="#c4e6fa" stroke="#1c1414" stroke-width="1.3"/>
<rect x="596" y="1281.5" width="48.5" height="3.5" fill="#1c1414" />
<rect x="600" y="1257" width="40.5" height="2.5" fill="#ffffff" opacity="0.5"/>
<rect x="644.5" y="1262.5" width="13" height="15.5" rx="3" fill="#c4e6fa" stroke="#1c1414" stroke-width="1.5"/>
<line x1="649.0" y1="1262.5" x2="649.0" y2="1278" stroke="#1c1414" stroke-width="1.2" />
<line x1="653.0" y1="1262.5" x2="653.0" y2="1278" stroke="#1c1414" stroke-width="1.0" />
<line x1="589" y1="1270.5" x2="664.5" y2="1270.5" stroke="#1c1414" stroke-width="1.3" stroke-dasharray="10,2,2,2"/>
<line x1="620" y1="1257" x2="620" y2="1290" stroke="#1c1414" stroke-width="1.2" stroke-dasharray="3,2"/>
<path d="M644.5 1170.3 L681 1170.3 Q688 1170.3 688 1177.3 L688 1252.4 Q688 1259.4 681 1259.4 L644.5 1259.4 Z" fill="#c4e6fa" stroke="#1c1414" stroke-width="1.4"/>
<path d="M672 1171.3 Q664 1214.85 672 1258.4" fill="none" stroke="#1c1414" stroke-width="1.3"/>
<path d="M679 1171.3 Q686 1173.3 686.5 1184.3 L686.5 1245.4 Q686 1256.4 679 1258.4" fill="none" stroke="#1c1414" stroke-width="2.2"/>
<circle cx="651.5" cy="1238" r="1.8" fill="#1c1414"/>
<line x1="428" y1="1215" x2="705" y2="1215" stroke="#1c1414" stroke-width="1.3" stroke-dasharray="10,2,2,2"/>
<line x1="478" y1="1165" x2="478" y2="1262" stroke="#1c1414" stroke-width="1.3" stroke-dasharray="10,2,2,2"/>
<text x="587.5" y="1219.5" font-size="11.5" font-weight="normal" text-anchor="start" fill="#1c1414" font-family="Liberation Sans" textLength="40" lengthAdjust="spacingAndGlyphs" stroke="#ffffff" stroke-width="0.01">VEMTE</text>
<text x="0" y="0" transform="translate(581.0,1217) rotate(-90)" font-size="9.8" font-weight="bold" text-anchor="middle" fill="#1c1414" font-family="Liberation Sans" stroke="#1c1414" stroke-width="0.3" textLength="34" lengthAdjust="spacingAndGlyphs">Φ130.5</text>
<line x1="440.8" y1="1110" x2="440.8" y2="1178" stroke="#1c1414" stroke-width="1.2" />
<line x1="440.8" y1="1118.6" x2="688.2" y2="1118.6" stroke="#1c1414" stroke-width="1.3" />
<line x1="688.2" y1="1112.6" x2="688.2" y2="1124.6" stroke="#1c1414" stroke-width="1.2" />
<text x="557.6" y="1116.8999999999999" font-size="9.8" font-weight="bold" text-anchor="middle" fill="#1c1414" font-family="Liberation Sans" textLength="19" lengthAdjust="spacingAndGlyphs" stroke="#1c1414" stroke-width="0.3">414</text>
<line x1="440.8" y1="1134.8" x2="643.3" y2="1134.8" stroke="#1c1414" stroke-width="1.3" />
<line x1="643.3" y1="1128.8" x2="643.3" y2="1140.8" stroke="#1c1414" stroke-width="1.2" />
<text x="541.4" y="1133.1" font-size="9.8" font-weight="bold" text-anchor="middle" fill="#1c1414" font-family="Liberation Sans" textLength="19" lengthAdjust="spacingAndGlyphs" stroke="#1c1414" stroke-width="0.3">345</text>
<line x1="440.8" y1="1148.3" x2="550.5" y2="1148.3" stroke="#1c1414" stroke-width="1.3" />
<line x1="550.5" y1="1142.3" x2="550.5" y2="1154.3" stroke="#1c1414" stroke-width="1.2" />
<text x="495.8" y="1146.6" font-size="9.8" font-weight="bold" text-anchor="middle" fill="#1c1414" font-family="Liberation Sans" textLength="19" lengthAdjust="spacingAndGlyphs" stroke="#1c1414" stroke-width="0.3">159</text>
<line x1="440.8" y1="1159" x2="550.5" y2="1159" stroke="#1c1414" stroke-width="1.3" />
<line x1="478" y1="1155" x2="478" y2="1163" stroke="#1c1414" stroke-width="1.2" />
<text x="459.7" y="1157.3" font-size="9.8" font-weight="bold" text-anchor="middle" fill="#1c1414" font-family="Liberation Sans" textLength="12" lengthAdjust="spacingAndGlyphs" stroke="#1c1414" stroke-width="0.3">58</text>
<text x="511" y="1157.3" font-size="9.8" font-weight="bold" text-anchor="middle" fill="#1c1414" font-family="Liberation Sans" textLength="18" lengthAdjust="spacingAndGlyphs" stroke="#1c1414" stroke-width="0.3">101</text>
<line x1="447.5" y1="1170.2" x2="543.7" y2="1170.2" stroke="#1c1414" stroke-width="1.3" />
<line x1="447.5" y1="1164.2" x2="447.5" y2="1178.2" stroke="#1c1414" stroke-width="1.2" />
<line x1="543.7" y1="1164.2" x2="543.7" y2="1178.2" stroke="#1c1414" stroke-width="1.2" />
<text x="457" y="1168.5" font-size="9.8" font-weight="bold" text-anchor="middle" fill="#1c1414" font-family="Liberation Sans" textLength="12" lengthAdjust="spacingAndGlyphs" stroke="#1c1414" stroke-width="0.3">46</text>
<text x="503.6" y="1168.5" font-size="9.8" font-weight="bold" text-anchor="middle" fill="#1c1414" font-family="Liberation Sans" textLength="12" lengthAdjust="spacingAndGlyphs" stroke="#1c1414" stroke-width="0.3">91</text>
<line x1="550.5" y1="1140" x2="550.5" y2="1178" stroke="#1c1414" stroke-width="1.2" />
<line x1="643.3" y1="1130" x2="643.3" y2="1175" stroke="#1c1414" stroke-width="1.2" />
<line x1="688.2" y1="1110" x2="688.2" y2="1300" stroke="#1c1414" stroke-width="1.2" />
<line x1="386.5" y1="1178" x2="440.8" y2="1178" stroke="#1c1414" stroke-width="1.2" />
<line x1="387.5" y1="1252" x2="440.8" y2="1252" stroke="#1c1414" stroke-width="1.2" />
<line x1="392.5" y1="1178" x2="392.5" y2="1252" stroke="#1c1414" stroke-width="1.3" />
<text x="0" y="0" transform="translate(390.5,1215) rotate(-90)" font-size="9.8" font-weight="bold" text-anchor="middle" fill="#1c1414" font-family="Liberation Sans" stroke="#1c1414" stroke-width="0.3" textLength="18" lengthAdjust="spacingAndGlyphs">116</text>
<line x1="403" y1="1178" x2="403" y2="1252" stroke="#1c1414" stroke-width="1.3" />
<line x1="399" y1="1215" x2="440.8" y2="1215" stroke="#1c1414" stroke-width="1.1" />
<text x="0" y="0" transform="translate(402,1201) rotate(-90)" font-size="9.8" font-weight="bold" text-anchor="middle" fill="#1c1414" font-family="Liberation Sans" stroke="#1c1414" stroke-width="0.3" textLength="12" lengthAdjust="spacingAndGlyphs">58</text>
<text x="0" y="0" transform="translate(402,1230) rotate(-90)" font-size="9.8" font-weight="bold" text-anchor="middle" fill="#1c1414" font-family="Liberation Sans" stroke="#1c1414" stroke-width="0.3" textLength="12" lengthAdjust="spacingAndGlyphs">58</text>
<line x1="409" y1="1185" x2="440.8" y2="1185" stroke="#1c1414" stroke-width="1.1" />
<line x1="409" y1="1245" x2="440.8" y2="1245" stroke="#1c1414" stroke-width="1.1" />
<line x1="415" y1="1185" x2="415" y2="1245" stroke="#1c1414" stroke-width="1.3" />
<text x="0" y="0" transform="translate(414,1203.5) rotate(-90)" font-size="9.8" font-weight="bold" text-anchor="middle" fill="#1c1414" font-family="Liberation Sans" stroke="#1c1414" stroke-width="0.3" textLength="12" lengthAdjust="spacingAndGlyphs">48</text>
<text x="0" y="0" transform="translate(414,1230.5) rotate(-90)" font-size="9.8" font-weight="bold" text-anchor="middle" fill="#1c1414" font-family="Liberation Sans" stroke="#1c1414" stroke-width="0.3" textLength="12" lengthAdjust="spacingAndGlyphs">48</text>
<line x1="428.75" y1="1204.4" x2="440.8" y2="1204.4" stroke="#1c1414" stroke-width="1.1" />
<line x1="428.75" y1="1223.75" x2="440.8" y2="1223.75" stroke="#1c1414" stroke-width="1.1" />
<line x1="433.75" y1="1204.4" x2="433.75" y2="1223.75" stroke="#1c1414" stroke-width="1.3" />
<text x="0" y="0" transform="translate(427.75,1214) rotate(-90)" font-size="9.8" font-weight="bold" text-anchor="middle" fill="#1c1414" font-family="Liberation Sans" stroke="#1c1414" stroke-width="0.3" textLength="20" lengthAdjust="spacingAndGlyphs">33.3</text>
<polyline points="444.8,1246 458.8,1273 530.8,1273" fill="none" stroke="#1c1414" stroke-width="1.2"/>
<text x="463.8" y="1270.5" font-size="9.8" font-weight="bold" text-anchor="start" fill="#1c1414" font-family="Liberation Sans" textLength="66" lengthAdjust="spacingAndGlyphs" stroke="#1c1414" stroke-width="0.3">4-M8深度17</text>
<line x1="648" y1="1168.75" x2="724.5" y2="1168.75" stroke="#1c1414" stroke-width="1.2" />
<line x1="644.5" y1="1260" x2="724.5" y2="1260" stroke="#1c1414" stroke-width="1.2" />
<line x1="718" y1="1168.75" x2="718" y2="1260" stroke="#1c1414" stroke-width="1.3" />
<text x="0" y="0" transform="translate(716,1214) rotate(-90)" font-size="9.8" font-weight="bold" text-anchor="middle" fill="#1c1414" font-family="Liberation Sans" stroke="#1c1414" stroke-width="0.3" textLength="24" lengthAdjust="spacingAndGlyphs">Φ146</text>
<line x1="692.5" y1="1215" x2="704.5" y2="1215" stroke="#1c1414" stroke-width="1.2" />
<line x1="702.5" y1="1215" x2="702.5" y2="1285" stroke="#1c1414" stroke-width="1.3" />
<line x1="644.5" y1="1285" x2="708.5" y2="1285" stroke="#1c1414" stroke-width="1.2" />
<text x="0" y="0" transform="translate(701.0,1252) rotate(-90)" font-size="9.8" font-weight="bold" text-anchor="middle" fill="#1c1414" font-family="Liberation Sans" stroke="#1c1414" stroke-width="0.3" textLength="18" lengthAdjust="spacingAndGlyphs">118</text>
<line x1="619.5" y1="1298.5" x2="688" y2="1298.5" stroke="#1c1414" stroke-width="1.3" />
<line x1="619.5" y1="1270" x2="619.5" y2="1303.5" stroke="#1c1414" stroke-width="1.2" />
<text x="659" y="1296.8" font-size="9.8" font-weight="bold" text-anchor="middle" fill="#1c1414" font-family="Liberation Sans" textLength="19" lengthAdjust="spacingAndGlyphs" stroke="#1c1414" stroke-width="0.3">106</text>
<line x1="596" y1="1312.5" x2="644.5" y2="1312.5" stroke="#1c1414" stroke-width="1.3" />
<line x1="596" y1="1285" x2="596" y2="1317.5" stroke="#1c1414" stroke-width="1.2" />
<line x1="644.5" y1="1285" x2="644.5" y2="1317.5" stroke="#1c1414" stroke-width="1.2" />
<text x="617.25" y="1310.8" font-size="9.8" font-weight="bold" text-anchor="middle" fill="#1c1414" font-family="Liberation Sans" textLength="12" lengthAdjust="spacingAndGlyphs" stroke="#1c1414" stroke-width="0.3">70</text>
<rect x="85.5" y="1518" width="110.1" height="74.59999999999991" rx="6" fill="#92c5ea" stroke="#1c1414" stroke-width="1.8"/>
<rect x="88.5" y="1521" width="104.1" height="68.59999999999991" rx="4" fill="none" stroke="#1c1414" stroke-width="0.6" stroke-dasharray="3,2"/>
<polygon points="107.8,1520.5 170.3,1520.5 191.3,1541.5 191.3,1572.5 170.3,1591.5 107.8,1591.5 89.8,1573.5 89.8,1539.5" fill="none" stroke="#1c1414" stroke-width="2.8"/>
<circle cx="92.9" cy="1524.9" r="4" fill="#1c1414"/>
<circle cx="92.9" cy="1524.9" r="1.2" fill="#92c5ea"/>
<circle cx="187.75" cy="1524.9" r="4" fill="#1c1414"/>
<circle cx="187.75" cy="1524.9" r="1.2" fill="#92c5ea"/>
<circle cx="92.9" cy="1584.75" r="4" fill="#1c1414"/>
<circle cx="92.9" cy="1584.75" r="1.2" fill="#92c5ea"/>
<circle cx="187.75" cy="1584.75" r="4" fill="#1c1414"/>
<circle cx="187.75" cy="1584.75" r="1.2" fill="#92c5ea"/>
<circle cx="123" cy="1554.5" r="26.2" fill="none" stroke="#1c1414" stroke-width="2"/>
<circle cx="123" cy="1554.5" r="22.5" fill="none" stroke="#1c1414" stroke-width="1.3"/>
<circle cx="123" cy="1554.5" r="13.5" fill="#ffffff" stroke="#1c1414" stroke-width="3.5"/>
<circle cx="123" cy="1554.5" r="9.5" fill="#ffffff" stroke="#1c1414" stroke-width="0.8"/>
<rect x="196.5" y="1513.4" width="11" height="83.6" fill="#92c5ea" stroke="#1c1414" stroke-width="1.2"/>
<rect x="206" y="1513.4" width="2.5" height="83.6" fill="#1c1414" />
<rect x="208.5" y="1535.5" width="4.5" height="39.5" fill="#92c5ea" stroke="#1c1414" stroke-width="1.2"/>
<line x1="81" y1="1554.5" x2="251" y2="1554.5" stroke="#1c1414" stroke-width="1.3" stroke-dasharray="10,2,2,2"/>
<line x1="123" y1="1504" x2="123" y2="1601" stroke="#1c1414" stroke-width="1.3" stroke-dasharray="10,2,2,2"/>
<line x1="92.7" y1="1510.8" x2="189.5" y2="1510.8" stroke="#1c1414" stroke-width="1.3" />
<line x1="92.7" y1="1506" x2="92.7" y2="1519" stroke="#1c1414" stroke-width="1.3" />
<line x1="189.5" y1="1506" x2="189.5" y2="1519" stroke="#1c1414" stroke-width="1.3" />
<text x="109.7" y="1508.7" font-size="9.8" font-weight="bold" text-anchor="middle" fill="#1c1414" font-family="Liberation Sans" textLength="13" lengthAdjust="spacingAndGlyphs" stroke="#1c1414" stroke-width="0.3">46</text>
<text x="148.5" y="1508.7" font-size="9.8" font-weight="bold" text-anchor="middle" fill="#1c1414" font-family="Liberation Sans" textLength="17" lengthAdjust="spacingAndGlyphs" stroke="#1c1414" stroke-width="0.3">110</text>
<line x1="234.6" y1="1525" x2="234.6" y2="1584.6" stroke="#1c1414" stroke-width="1.3" />
<line x1="209" y1="1525" x2="239" y2="1525" stroke="#1c1414" stroke-width="1.2" />
<line x1="209" y1="1584.6" x2="239" y2="1584.6" stroke="#1c1414" stroke-width="1.2" />
<text x="0" y="0" transform="translate(231,1540) rotate(-90)" font-size="9.8" font-weight="bold" text-anchor="middle" fill="#1c1414" font-family="Liberation Sans" stroke="#1c1414" stroke-width="0.3" textLength="13" lengthAdjust="spacingAndGlyphs">46</text>
<text x="0" y="0" transform="translate(231,1570) rotate(-90)" font-size="9.8" font-weight="bold" text-anchor="middle" fill="#1c1414" font-family="Liberation Sans" stroke="#1c1414" stroke-width="0.3" textLength="13" lengthAdjust="spacingAndGlyphs">46</text>
<polyline points="189,1587 195,1609 236,1609" fill="none" stroke="#1c1414" stroke-width="1.2"/>
<text x="200" y="1606.5" font-size="9.8" font-weight="bold" text-anchor="start" fill="#1c1414" font-family="Liberation Sans" textLength="34" lengthAdjust="spacingAndGlyphs" stroke="#1c1414" stroke-width="0.3">4-Φ11</text>
<ellipse cx="321.7" cy="1554" rx="44" ry="42.5" fill="#c4e6fa" stroke="#1c1414" stroke-width="6.2"/>
<rect x="296.6" y="1597.3" width="50.2" height="27" fill="#c4e6fa" stroke="#1c1414" stroke-width="1.2"/>
<rect x="296.6" y="1622" width="50.2" height="3.5" fill="#1c1414" />
<rect x="303" y="1595" width="40" height="4" fill="#1c1414" />
<rect x="293.8" y="1519" width="61.2" height="73.5" fill="#92c5ea" stroke="#1c1414" stroke-width="1.5"/>
<line x1="345.4" y1="1519" x2="345.4" y2="1592.5" stroke="#1c1414" stroke-width="1.4" />
<line x1="293.8" y1="1532.6" x2="331.6" y2="1532.6" stroke="#1c1414" stroke-width="1.3" />
<line x1="293.8" y1="1536.8" x2="331.6" y2="1536.8" stroke="#1c1414" stroke-width="1.3" />
<line x1="331.6" y1="1525" x2="331.6" y2="1550.5" stroke="#1c1414" stroke-width="1.6" />
<line x1="293.8" y1="1573.9" x2="331.6" y2="1573.9" stroke="#1c1414" stroke-width="1.3" />
<line x1="293.8" y1="1578.7" x2="331.6" y2="1578.7" stroke="#1c1414" stroke-width="1.3" />
<line x1="331.6" y1="1560.8" x2="331.6" y2="1586.3" stroke="#1c1414" stroke-width="1.6" />
<rect x="287.6" y="1541" width="2.8" height="28.8" fill="#1c1414" />
<line x1="358.5" y1="1532.6" x2="358.5" y2="1568.4" stroke="#1c1414" stroke-width="1" />
<line x1="362" y1="1532.6" x2="362" y2="1568.4" stroke="#1c1414" stroke-width="1" />
<line x1="259" y1="1556" x2="379" y2="1556" stroke="#1c1414" stroke-width="1.3" stroke-dasharray="10,2,2,2"/>
<line x1="321.7" y1="1481" x2="321.7" y2="1633" stroke="#1c1414" stroke-width="1.3" stroke-dasharray="10,2,2,2"/>
<line x1="291" y1="1610" x2="353" y2="1610" stroke="#1c1414" stroke-width="1.3" stroke-dasharray="10,2,2,2"/>
<line x1="274.8" y1="1466.8" x2="355.5" y2="1466.8" stroke="#1c1414" stroke-width="1.3" />
<line x1="274.8" y1="1461" x2="274.8" y2="1556" stroke="#1c1414" stroke-width="1.2" />
<line x1="355.5" y1="1461" x2="355.5" y2="1519" stroke="#1c1414" stroke-width="1.2" />
<text x="319" y="1464.5" font-size="9.8" font-weight="bold" text-anchor="middle" fill="#1c1414" font-family="Liberation Sans" textLength="19" lengthAdjust="spacingAndGlyphs" stroke="#1c1414" stroke-width="0.3">134</text>
<line x1="289.8" y1="1484.8" x2="355.5" y2="1484.8" stroke="#1c1414" stroke-width="1.3" />
<line x1="289.8" y1="1478" x2="289.8" y2="1519" stroke="#1c1414" stroke-width="1.2" />
<text x="305" y="1482.5" font-size="9.8" font-weight="bold" text-anchor="middle" fill="#1c1414" font-family="Liberation Sans" textLength="12" lengthAdjust="spacingAndGlyphs" stroke="#1c1414" stroke-width="0.3">65</text>
<text x="339" y="1482.5" font-size="9.8" font-weight="bold" text-anchor="middle" fill="#1c1414" font-family="Liberation Sans" textLength="12" lengthAdjust="spacingAndGlyphs" stroke="#1c1414" stroke-width="0.3">60</text>
<line x1="339.5" y1="1507.3" x2="388.3" y2="1507.3" stroke="#1c1414" stroke-width="1.3" />
<line x1="345.4" y1="1501" x2="345.4" y2="1519" stroke="#1c1414" stroke-width="1.2" />
<text x="374" y="1505" font-size="9.8" font-weight="bold" text-anchor="middle" fill="#1c1414" font-family="Liberation Sans" textLength="22" lengthAdjust="spacingAndGlyphs" stroke="#1c1414" stroke-width="0.3">15.5</text>
<rect x="446.3" y="1518.7" width="110.49999999999994" height="73.20000000000005" rx="5" fill="#92c5ea" stroke="#1c1414" stroke-width="1.8"/>
<polygon points="464.3,1523.2 533.8,1523.2 552.8,1540.7 552.8,1572.9 533.8,1588.9 464.3,1588.9 450.3,1572.9 450.3,1537.7" fill="none" stroke="#1c1414" stroke-width="2.8"/>
<circle cx="452.3" cy="1524.7" r="3.8" fill="#1c1414"/>
<circle cx="452.3" cy="1524.7" r="1.3" fill="#92c5ea"/>
<circle cx="550.8" cy="1524.7" r="3.8" fill="#1c1414"/>
<circle cx="550.8" cy="1524.7" r="1.3" fill="#92c5ea"/>
<circle cx="452.3" cy="1585.9" r="3.8" fill="#1c1414"/>
<circle cx="452.3" cy="1585.9" r="1.3" fill="#92c5ea"/>
<circle cx="550.8" cy="1585.9" r="3.8" fill="#1c1414"/>
<circle cx="550.8" cy="1585.9" r="1.3" fill="#92c5ea"/>
<circle cx="483.5" cy="1556" r="27" fill="none" stroke="#1c1414" stroke-width="1.3"/>
<circle cx="483.5" cy="1556" r="24.5" fill="none" stroke="#1c1414" stroke-width="1.3"/>
<circle cx="483.5" cy="1556" r="20" fill="none" stroke="#1c1414" stroke-width="1.2"/>
<circle cx="483.5" cy="1556" r="17" fill="none" stroke="#1c1414" stroke-width="1.0"/>
<circle cx="483.5" cy="1556" r="13" fill="none" stroke="#1c1414" stroke-width="2.5"/>
<circle cx="483.5" cy="1556" r="8.5" fill="#ffffff" stroke="#1c1414" stroke-width="1.5"/>
<rect x="556.5" y="1514.75" width="9.5" height="83" fill="#92c5ea" stroke="#1c1414" stroke-width="1.2"/>
<rect x="566.0" y="1517" width="84.0" height="78.5" fill="#c4e6fa"/>
<rect x="566.0" y="1516.6" width="80.0" height="3" fill="#1c1414" />
<rect x="571.0" y="1522.6" width="73.0" height="9.4" fill="#1c1414" />
<rect x="571.0" y="1579.8" width="73.0" height="10.2" fill="#1c1414" />
<rect x="566.0" y="1592" width="80.0" height="3.2" fill="#1c1414" />
<line x1="586.5" y1="1531" x2="586.5" y2="1581" stroke="#1c1414" stroke-width="1.3" />
<line x1="650.0" y1="1516" x2="650.0" y2="1596" stroke="#1c1414" stroke-width="1.2" />
<polygon points="598.5,1592 646.0,1592 650.0,1598 598.5,1598" fill="#1c1414"/>
<rect x="601.5" y="1597.6" width="48.5" height="28.2" fill="#c4e6fa" stroke="#1c1414" stroke-width="1.3"/>
<rect x="601.5" y="1622.5" width="48.5" height="3.5" fill="#1c1414" />
<rect x="605.5" y="1598" width="40.5" height="2.5" fill="#ffffff" opacity="0.5"/>
<rect x="650.0" y="1603.5" width="13" height="15.5" rx="3" fill="#c4e6fa" stroke="#1c1414" stroke-width="1.5"/>
<line x1="654.5" y1="1603.5" x2="654.5" y2="1619" stroke="#1c1414" stroke-width="1.2" />
<line x1="658.5" y1="1603.5" x2="658.5" y2="1619" stroke="#1c1414" stroke-width="1.0" />
<line x1="594.5" y1="1611.5" x2="670.0" y2="1611.5" stroke="#1c1414" stroke-width="1.3" stroke-dasharray="10,2,2,2"/>
<line x1="625.5" y1="1598" x2="625.5" y2="1631" stroke="#1c1414" stroke-width="1.2" stroke-dasharray="3,2"/>
<path d="M650.0 1511.3 L686.5 1511.3 Q693.5 1511.3 693.5 1518.3 L693.5 1593.4 Q693.5 1600.4 686.5 1600.4 L650.0 1600.4 Z" fill="#c4e6fa" stroke="#1c1414" stroke-width="1.4"/>
<path d="M677.5 1512.3 Q669.5 1555.85 677.5 1599.4" fill="none" stroke="#1c1414" stroke-width="1.3"/>
<path d="M684.5 1512.3 Q691.5 1514.3 692.0 1525.3 L692.0 1586.4 Q691.5 1597.4 684.5 1599.4" fill="none" stroke="#1c1414" stroke-width="2.2"/>
<circle cx="657.0" cy="1579" r="1.8" fill="#1c1414"/>
<line x1="433.5" y1="1556" x2="710.5" y2="1556" stroke="#1c1414" stroke-width="1.3" stroke-dasharray="10,2,2,2"/>
<line x1="483.5" y1="1506" x2="483.5" y2="1603" stroke="#1c1414" stroke-width="1.3" stroke-dasharray="10,2,2,2"/>
<text x="592.0" y="1560.5" font-size="11.5" font-weight="normal" text-anchor="start" fill="#1c1414" font-family="Liberation Sans" textLength="40" lengthAdjust="spacingAndGlyphs" stroke="#ffffff" stroke-width="0.01">VEMTE</text>
<text x="0" y="0" transform="translate(585.5,1558) rotate(-90)" font-size="9.8" font-weight="bold" text-anchor="middle" fill="#1c1414" font-family="Liberation Sans" stroke="#1c1414" stroke-width="0.3" textLength="34" lengthAdjust="spacingAndGlyphs">Φ130.5</text>
<line x1="446.3" y1="1451" x2="446.3" y2="1519" stroke="#1c1414" stroke-width="1.2" />
<line x1="446.3" y1="1454.6" x2="693.75" y2="1454.6" stroke="#1c1414" stroke-width="1.3" />
<line x1="693.75" y1="1448.6" x2="693.75" y2="1460.6" stroke="#1c1414" stroke-width="1.2" />
<text x="560" y="1452.8999999999999" font-size="9.8" font-weight="bold" text-anchor="middle" fill="#1c1414" font-family="Liberation Sans" textLength="19" lengthAdjust="spacingAndGlyphs" stroke="#1c1414" stroke-width="0.3">440</text>
<line x1="446.3" y1="1475.75" x2="649.25" y2="1475.75" stroke="#1c1414" stroke-width="1.3" />
<line x1="649.25" y1="1469.75" x2="649.25" y2="1481.75" stroke="#1c1414" stroke-width="1.2" />
<text x="549" y="1474.05" font-size="9.8" font-weight="bold" text-anchor="middle" fill="#1c1414" font-family="Liberation Sans" textLength="19" lengthAdjust="spacingAndGlyphs" stroke="#1c1414" stroke-width="0.3">371</text>
<line x1="446.3" y1="1488" x2="556" y2="1488" stroke="#1c1414" stroke-width="1.3" />
<line x1="556" y1="1482" x2="556" y2="1494" stroke="#1c1414" stroke-width="1.2" />
<text x="500.5" y="1486.3" font-size="9.8" font-weight="bold" text-anchor="middle" fill="#1c1414" font-family="Liberation Sans" textLength="19" lengthAdjust="spacingAndGlyphs" stroke="#1c1414" stroke-width="0.3">180</text>
<line x1="446.3" y1="1500" x2="556" y2="1500" stroke="#1c1414" stroke-width="1.3" />
<line x1="483.5" y1="1496" x2="483.5" y2="1504" stroke="#1c1414" stroke-width="1.2" />
<text x="465" y="1498.3" font-size="9.8" font-weight="bold" text-anchor="middle" fill="#1c1414" font-family="Liberation Sans" textLength="12" lengthAdjust="spacingAndGlyphs" stroke="#1c1414" stroke-width="0.3">58</text>
<text x="517" y="1498.3" font-size="9.8" font-weight="bold" text-anchor="middle" fill="#1c1414" font-family="Liberation Sans" textLength="18" lengthAdjust="spacingAndGlyphs" stroke="#1c1414" stroke-width="0.3">122</text>
<line x1="453.0" y1="1511.2" x2="548.5" y2="1511.2" stroke="#1c1414" stroke-width="1.3" />
<line x1="453.0" y1="1505.2" x2="453.0" y2="1519.2" stroke="#1c1414" stroke-width="1.2" />
<line x1="548.5" y1="1505.2" x2="548.5" y2="1519.2" stroke="#1c1414" stroke-width="1.2" />
<text x="462" y="1509.5" font-size="9.8" font-weight="bold" text-anchor="middle" fill="#1c1414" font-family="Liberation Sans" textLength="12" lengthAdjust="spacingAndGlyphs" stroke="#1c1414" stroke-width="0.3">46</text>
<text x="509" y="1509.5" font-size="9.8" font-weight="bold" text-anchor="middle" fill="#1c1414" font-family="Liberation Sans" textLength="17" lengthAdjust="spacingAndGlyphs" stroke="#1c1414" stroke-width="0.3">110</text>
<line x1="556" y1="1481" x2="556" y2="1519" stroke="#1c1414" stroke-width="1.2" />
<line x1="649.25" y1="1471" x2="649.25" y2="1516" stroke="#1c1414" stroke-width="1.2" />
<line x1="693.75" y1="1451" x2="693.75" y2="1641" stroke="#1c1414" stroke-width="1.2" />
<line x1="390.9" y1="1519" x2="446.3" y2="1519" stroke="#1c1414" stroke-width="1.2" />
<line x1="391.9" y1="1593" x2="446.3" y2="1593" stroke="#1c1414" stroke-width="1.2" />
<line x1="396.9" y1="1519" x2="396.9" y2="1593" stroke="#1c1414" stroke-width="1.3" />
<text x="0" y="0" transform="translate(394.9,1556) rotate(-90)" font-size="9.8" font-weight="bold" text-anchor="middle" fill="#1c1414" font-family="Liberation Sans" stroke="#1c1414" stroke-width="0.3" textLength="18" lengthAdjust="spacingAndGlyphs">118</text>
<line x1="408" y1="1519" x2="408" y2="1593" stroke="#1c1414" stroke-width="1.3" />
<line x1="404" y1="1556" x2="446.3" y2="1556" stroke="#1c1414" stroke-width="1.1" />
<text x="0" y="0" transform="translate(407,1542) rotate(-90)" font-size="9.8" font-weight="bold" text-anchor="middle" fill="#1c1414" font-family="Liberation Sans" stroke="#1c1414" stroke-width="0.3" textLength="12" lengthAdjust="spacingAndGlyphs">58</text>
<text x="0" y="0" transform="translate(407,1571) rotate(-90)" font-size="9.8" font-weight="bold" text-anchor="middle" fill="#1c1414" font-family="Liberation Sans" stroke="#1c1414" stroke-width="0.3" textLength="12" lengthAdjust="spacingAndGlyphs">58</text>
<line x1="412.3" y1="1526" x2="446.3" y2="1526" stroke="#1c1414" stroke-width="1.1" />
<line x1="412.3" y1="1586" x2="446.3" y2="1586" stroke="#1c1414" stroke-width="1.1" />
<line x1="418.3" y1="1526" x2="418.3" y2="1586" stroke="#1c1414" stroke-width="1.3" />
<text x="0" y="0" transform="translate(417.3,1544.5) rotate(-90)" font-size="9.8" font-weight="bold" text-anchor="middle" fill="#1c1414" font-family="Liberation Sans" stroke="#1c1414" stroke-width="0.3" textLength="12" lengthAdjust="spacingAndGlyphs">46</text>
<text x="0" y="0" transform="translate(417.3,1571.5) rotate(-90)" font-size="9.8" font-weight="bold" text-anchor="middle" fill="#1c1414" font-family="Liberation Sans" stroke="#1c1414" stroke-width="0.3" textLength="12" lengthAdjust="spacingAndGlyphs">46</text>
<line x1="432.4" y1="1545.4" x2="446.3" y2="1545.4" stroke="#1c1414" stroke-width="1.1" />
<line x1="432.4" y1="1564.75" x2="446.3" y2="1564.75" stroke="#1c1414" stroke-width="1.1" />
<line x1="437.4" y1="1545.4" x2="437.4" y2="1564.75" stroke="#1c1414" stroke-width="1.3" />
<text x="0" y="0" transform="translate(431.4,1555) rotate(-90)" font-size="9.8" font-weight="bold" text-anchor="middle" fill="#1c1414" font-family="Liberation Sans" stroke="#1c1414" stroke-width="0.3" textLength="20" lengthAdjust="spacingAndGlyphs">33.3</text>
<polyline points="450.3,1587 464.3,1614 536.3,1614" fill="none" stroke="#1c1414" stroke-width="1.2"/>
<text x="469.3" y="1611.5" font-size="9.8" font-weight="bold" text-anchor="start" fill="#1c1414" font-family="Liberation Sans" textLength="66" lengthAdjust="spacingAndGlyphs" stroke="#1c1414" stroke-width="0.3">4-M8深度17</text>
<line x1="653.5" y1="1509.75" x2="728.25" y2="1509.75" stroke="#1c1414" stroke-width="1.2" />
<line x1="650.0" y1="1601" x2="728.25" y2="1601" stroke="#1c1414" stroke-width="1.2" />
<line x1="721.75" y1="1509.75" x2="721.75" y2="1601" stroke="#1c1414" stroke-width="1.3" />
<text x="0" y="0" transform="translate(719.75,1555) rotate(-90)" font-size="9.8" font-weight="bold" text-anchor="middle" fill="#1c1414" font-family="Liberation Sans" stroke="#1c1414" stroke-width="0.3" textLength="24" lengthAdjust="spacingAndGlyphs">Φ146</text>
<line x1="697.0" y1="1556" x2="709.0" y2="1556" stroke="#1c1414" stroke-width="1.2" />
<line x1="707.0" y1="1556" x2="707.0" y2="1626" stroke="#1c1414" stroke-width="1.3" />
<line x1="650.0" y1="1626" x2="713.0" y2="1626" stroke="#1c1414" stroke-width="1.2" />
<text x="0" y="0" transform="translate(705.5,1593) rotate(-90)" font-size="9.8" font-weight="bold" text-anchor="middle" fill="#1c1414" font-family="Liberation Sans" stroke="#1c1414" stroke-width="0.3" textLength="18" lengthAdjust="spacingAndGlyphs">118</text>
<line x1="625.0" y1="1636.1" x2="693.5" y2="1636.1" stroke="#1c1414" stroke-width="1.3" />
<line x1="625.0" y1="1611" x2="625.0" y2="1641.1" stroke="#1c1414" stroke-width="1.2" />
<text x="664.5" y="1634.3999999999999" font-size="9.8" font-weight="bold" text-anchor="middle" fill="#1c1414" font-family="Liberation Sans" textLength="19" lengthAdjust="spacingAndGlyphs" stroke="#1c1414" stroke-width="0.3">106</text>
<line x1="601.5" y1="1642.5" x2="650.0" y2="1642.5" stroke="#1c1414" stroke-width="1.3" />
<line x1="601.5" y1="1626" x2="601.5" y2="1647.5" stroke="#1c1414" stroke-width="1.2" />
<line x1="650.0" y1="1626" x2="650.0" y2="1647.5" stroke="#1c1414" stroke-width="1.2" />
<text x="614.75" y="1640.8" font-size="9.8" font-weight="bold" text-anchor="middle" fill="#1c1414" font-family="Liberation Sans" textLength="12" lengthAdjust="spacingAndGlyphs" stroke="#1c1414" stroke-width="0.3">70</text>
</svg>
</body></html>
